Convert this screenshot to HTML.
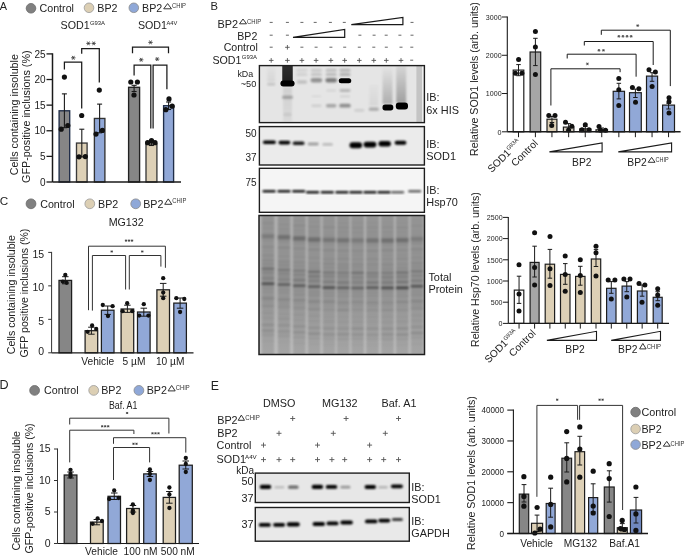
<!DOCTYPE html>
<html><head><meta charset="utf-8"><style>
html,body{margin:0;padding:0;background:#fff;}
body{width:685px;height:555px;overflow:hidden;}
svg{display:block;font-family:"Liberation Sans", sans-serif;will-change:transform;}
</style></head><body>
<svg width="685" height="555" viewBox="0 0 685 555">
<defs>
<filter id="b1" x="-50%" y="-50%" width="200%" height="200%"><feGaussianBlur stdDeviation="0.9"/></filter>
<filter id="b2" x="-50%" y="-50%" width="200%" height="200%"><feGaussianBlur stdDeviation="1.6"/></filter>
<filter id="b05" x="-50%" y="-50%" width="200%" height="200%"><feGaussianBlur stdDeviation="0.5"/></filter>
</defs>
<rect width="685" height="555" fill="#fff"/>
<text x="-0.30" y="9.70" font-size="10.9" text-anchor="start" fill="#222" >A</text>
<circle cx="31.00" cy="8.30" r="4.80" fill="#808080" stroke="#6a6a6a" stroke-width="0.8"/>
<text x="39.50" y="12.00" font-size="10.7" text-anchor="start" fill="#222" >Control</text>
<circle cx="89.00" cy="7.80" r="4.80" fill="#dccfb4" stroke="#9a9a9a" stroke-width="0.8"/>
<text x="97.30" y="11.80" font-size="10.7" text-anchor="start" fill="#222" >BP2</text>
<circle cx="133.80" cy="7.80" r="4.80" fill="#8fa8d8" stroke="#8a8a8a" stroke-width="0.8"/>
<text x="142.00" y="11.80" font-size="10.7" text-anchor="start" fill="#222" >BP2</text>
<polygon points="163.70,8.80 167.60,3.60 171.50,8.80" stroke="#2a2a2a" stroke-width="0.95" fill="none" stroke-linejoin="miter"/>
<text x="172.00" y="7.90" font-size="6.27" text-anchor="start" fill="#333" textLength="14" lengthAdjust="spacingAndGlyphs" >CHIP</text>
<text x="60.60" y="28.80" font-size="10.7" text-anchor="start" fill="#222" >SOD1</text>
<text x="89.90" y="24.60" font-size="5.9" text-anchor="start" fill="#222" >G93A</text>
<text x="137.90" y="28.80" font-size="10.7" text-anchor="start" fill="#222" >SOD1</text>
<text x="166.50" y="24.60" font-size="5.7" text-anchor="start" fill="#222" >A4V</text>
<text transform="translate(18.4,114.7) rotate(-90)" font-size="10.75" text-anchor="middle" fill="#222">Cells containing insoluble</text>
<text transform="translate(29.8,116.7) rotate(-90)" font-size="10.8" text-anchor="middle" fill="#222">GFP-positive inclusions (%)</text>
<line x1="52.50" y1="53.30" x2="52.50" y2="182.00" stroke="#1a1a1a" stroke-width="1.5" />
<line x1="46.50" y1="182.00" x2="52.50" y2="182.00" stroke="#1a1a1a" stroke-width="1.3" />
<text x="45.50" y="185.60" font-size="10" text-anchor="end" fill="#222" >0</text>
<line x1="46.50" y1="156.38" x2="52.50" y2="156.38" stroke="#1a1a1a" stroke-width="1.3" />
<text x="45.50" y="159.98" font-size="10" text-anchor="end" fill="#222" >5</text>
<line x1="46.50" y1="130.76" x2="52.50" y2="130.76" stroke="#1a1a1a" stroke-width="1.3" />
<text x="45.50" y="134.36" font-size="10" text-anchor="end" fill="#222" >10</text>
<line x1="46.50" y1="105.14" x2="52.50" y2="105.14" stroke="#1a1a1a" stroke-width="1.3" />
<text x="45.50" y="108.74" font-size="10" text-anchor="end" fill="#222" >15</text>
<line x1="46.50" y1="79.52" x2="52.50" y2="79.52" stroke="#1a1a1a" stroke-width="1.3" />
<text x="45.50" y="83.12" font-size="10" text-anchor="end" fill="#222" >20</text>
<line x1="46.50" y1="53.90" x2="52.50" y2="53.90" stroke="#1a1a1a" stroke-width="1.3" />
<text x="45.50" y="57.50" font-size="10" text-anchor="end" fill="#222" >25</text>
<rect x="59.10" y="110.78" width="10.60" height="71.22" fill="#868686" stroke="#1f2d48" stroke-width="1.35" />
<line x1="64.40" y1="93.87" x2="64.40" y2="127.69" stroke="#1a1a1a" stroke-width="1.1" />
<line x1="61.90" y1="93.87" x2="66.90" y2="93.87" stroke="#1a1a1a" stroke-width="1.1" />
<line x1="61.90" y1="127.69" x2="66.90" y2="127.69" stroke="#1a1a1a" stroke-width="1.1" />
<circle cx="61.20" cy="129.20" r="2.60" fill="#111" stroke="none" stroke-width="0.8"/>
<circle cx="67.80" cy="125.50" r="2.60" fill="#111" stroke="none" stroke-width="0.8"/>
<circle cx="64.40" cy="77.10" r="2.60" fill="#111" stroke="none" stroke-width="0.8"/>
<rect x="76.50" y="143.06" width="10.60" height="38.94" fill="#ddd0b6" stroke="#3a3a3a" stroke-width="1.35" />
<line x1="81.80" y1="129.22" x2="81.80" y2="156.89" stroke="#1a1a1a" stroke-width="1.1" />
<line x1="79.30" y1="129.22" x2="84.30" y2="129.22" stroke="#1a1a1a" stroke-width="1.1" />
<line x1="79.30" y1="156.89" x2="84.30" y2="156.89" stroke="#1a1a1a" stroke-width="1.1" />
<circle cx="79.00" cy="156.80" r="2.60" fill="#111" stroke="none" stroke-width="0.8"/>
<circle cx="85.30" cy="156.60" r="2.60" fill="#111" stroke="none" stroke-width="0.8"/>
<circle cx="81.70" cy="115.50" r="2.60" fill="#111" stroke="none" stroke-width="0.8"/>
<rect x="94.40" y="118.46" width="10.50" height="63.54" fill="#91a8d7" stroke="#333" stroke-width="1.35" />
<line x1="99.60" y1="104.12" x2="99.60" y2="132.81" stroke="#1a1a1a" stroke-width="1.1" />
<line x1="97.10" y1="104.12" x2="102.10" y2="104.12" stroke="#1a1a1a" stroke-width="1.1" />
<line x1="97.10" y1="132.81" x2="102.10" y2="132.81" stroke="#1a1a1a" stroke-width="1.1" />
<circle cx="96.00" cy="134.10" r="2.60" fill="#111" stroke="none" stroke-width="0.8"/>
<circle cx="102.40" cy="130.40" r="2.60" fill="#111" stroke="none" stroke-width="0.8"/>
<circle cx="99.30" cy="90.10" r="2.60" fill="#111" stroke="none" stroke-width="0.8"/>
<rect x="128.60" y="87.30" width="11.00" height="94.70" fill="#868686" stroke="#222" stroke-width="1.35" />
<line x1="134.10" y1="85.30" x2="134.10" y2="91.50" stroke="#1a1a1a" stroke-width="1.1" />
<line x1="131.60" y1="85.30" x2="136.60" y2="85.30" stroke="#1a1a1a" stroke-width="1.1" />
<line x1="131.60" y1="91.50" x2="136.60" y2="91.50" stroke="#1a1a1a" stroke-width="1.1" />
<circle cx="130.80" cy="82.00" r="2.60" fill="#111" stroke="none" stroke-width="0.8"/>
<circle cx="137.40" cy="82.00" r="2.60" fill="#111" stroke="none" stroke-width="0.8"/>
<circle cx="134.00" cy="95.00" r="2.60" fill="#111" stroke="none" stroke-width="0.8"/>
<rect x="146.00" y="144.00" width="10.90" height="38.00" fill="#ddd0b6" stroke="#3a3a3a" stroke-width="1.35" />
<line x1="151.40" y1="142.50" x2="151.40" y2="145.50" stroke="#1a1a1a" stroke-width="1.1" />
<line x1="148.90" y1="142.50" x2="153.90" y2="142.50" stroke="#1a1a1a" stroke-width="1.1" />
<line x1="148.90" y1="145.50" x2="153.90" y2="145.50" stroke="#1a1a1a" stroke-width="1.1" />
<circle cx="147.60" cy="142.70" r="2.60" fill="#111" stroke="none" stroke-width="0.8"/>
<circle cx="151.50" cy="140.60" r="2.60" fill="#111" stroke="none" stroke-width="0.8"/>
<circle cx="155.00" cy="142.70" r="2.60" fill="#111" stroke="none" stroke-width="0.8"/>
<rect x="163.60" y="105.70" width="10.00" height="76.30" fill="#91a8d7" stroke="#1f2d48" stroke-width="1.35" />
<line x1="168.60" y1="102.00" x2="168.60" y2="109.50" stroke="#1a1a1a" stroke-width="1.1" />
<line x1="166.10" y1="102.00" x2="171.10" y2="102.00" stroke="#1a1a1a" stroke-width="1.1" />
<line x1="166.10" y1="109.50" x2="171.10" y2="109.50" stroke="#1a1a1a" stroke-width="1.1" />
<circle cx="169.00" cy="98.90" r="2.60" fill="#111" stroke="none" stroke-width="0.8"/>
<circle cx="165.80" cy="109.70" r="2.60" fill="#111" stroke="none" stroke-width="0.8"/>
<circle cx="172.20" cy="106.20" r="2.60" fill="#111" stroke="none" stroke-width="0.8"/>
<line x1="52.50" y1="182.00" x2="181.00" y2="182.00" stroke="#1a1a1a" stroke-width="1.6" />
<polyline points="64.40,69.60 64.40,62.00 81.70,62.00 81.70,108.60" stroke="#1a1a1a" stroke-width="1.25" fill="none" stroke-linejoin="miter" />
<line x1="71.10" y1="57.80" x2="75.50" y2="57.80" stroke="#3a3a3a" stroke-width="0.85" />
<line x1="72.20" y1="55.89" x2="74.40" y2="59.71" stroke="#3a3a3a" stroke-width="0.85" />
<line x1="74.40" y1="55.89" x2="72.20" y2="59.71" stroke="#3a3a3a" stroke-width="0.85" />
<polyline points="81.70,53.80 81.70,48.70 99.30,48.70 99.30,82.60" stroke="#1a1a1a" stroke-width="1.25" fill="none" stroke-linejoin="miter" />
<line x1="86.30" y1="43.40" x2="90.50" y2="43.40" stroke="#3a3a3a" stroke-width="0.85" />
<line x1="87.35" y1="41.58" x2="89.45" y2="45.22" stroke="#3a3a3a" stroke-width="0.85" />
<line x1="89.45" y1="41.58" x2="87.35" y2="45.22" stroke="#3a3a3a" stroke-width="0.85" />
<line x1="91.60" y1="43.40" x2="95.80" y2="43.40" stroke="#3a3a3a" stroke-width="0.85" />
<line x1="92.65" y1="41.58" x2="94.75" y2="45.22" stroke="#3a3a3a" stroke-width="0.85" />
<line x1="94.75" y1="41.58" x2="92.65" y2="45.22" stroke="#3a3a3a" stroke-width="0.85" />
<polyline points="132.50,53.30 132.50,47.20 168.50,47.20 168.50,53.30" stroke="#1a1a1a" stroke-width="1.25" fill="none" stroke-linejoin="miter" />
<line x1="148.30" y1="42.40" x2="152.70" y2="42.40" stroke="#3a3a3a" stroke-width="0.85" />
<line x1="149.40" y1="40.49" x2="151.60" y2="44.31" stroke="#3a3a3a" stroke-width="0.85" />
<line x1="151.60" y1="40.49" x2="149.40" y2="44.31" stroke="#3a3a3a" stroke-width="0.85" />
<polyline points="134.10,75.40 134.10,65.20 150.80,65.20 150.80,128.50" stroke="#1a1a1a" stroke-width="1.25" fill="none" stroke-linejoin="miter" />
<line x1="139.00" y1="59.80" x2="143.40" y2="59.80" stroke="#3a3a3a" stroke-width="0.85" />
<line x1="140.10" y1="57.89" x2="142.30" y2="61.71" stroke="#3a3a3a" stroke-width="0.85" />
<line x1="142.30" y1="57.89" x2="140.10" y2="61.71" stroke="#3a3a3a" stroke-width="0.85" />
<polyline points="153.10,128.50 153.10,65.20 166.90,65.20 166.90,89.20" stroke="#1a1a1a" stroke-width="1.25" fill="none" stroke-linejoin="miter" />
<line x1="155.00" y1="59.10" x2="159.40" y2="59.10" stroke="#3a3a3a" stroke-width="0.85" />
<line x1="156.10" y1="57.19" x2="158.30" y2="61.01" stroke="#3a3a3a" stroke-width="0.85" />
<line x1="158.30" y1="57.19" x2="156.10" y2="61.01" stroke="#3a3a3a" stroke-width="0.85" />
<text x="210.60" y="9.60" font-size="11.2" text-anchor="start" fill="#222" >B</text>
<text x="217.60" y="27.50" font-size="10.9" text-anchor="start" fill="#222" >BP2</text>
<polygon points="239.50,23.80 243.00,19.00 246.50,23.80" stroke="#2a2a2a" stroke-width="0.95" fill="none" stroke-linejoin="miter"/>
<text x="247.00" y="23.70" font-size="6.5" text-anchor="start" fill="#333" textLength="14.1" lengthAdjust="spacingAndGlyphs" >CHIP</text>
<text x="257.30" y="39.80" font-size="10.6" text-anchor="end" fill="#222" >BP2</text>
<text x="257.80" y="51.10" font-size="10.6" text-anchor="end" fill="#222" >Control</text>
<text x="212.40" y="63.60" font-size="10.7" text-anchor="start" fill="#222" >SOD1</text>
<text x="241.80" y="59.40" font-size="5.9" text-anchor="start" fill="#222" >G93A</text>
<line x1="268.90" y1="60.40" x2="273.50" y2="60.40" stroke="#555" stroke-width="0.9" />
<line x1="271.20" y1="58.10" x2="271.20" y2="62.70" stroke="#555" stroke-width="0.9" />
<line x1="285.10" y1="60.40" x2="289.70" y2="60.40" stroke="#555" stroke-width="0.9" />
<line x1="287.40" y1="58.10" x2="287.40" y2="62.70" stroke="#555" stroke-width="0.9" />
<line x1="299.60" y1="60.40" x2="304.20" y2="60.40" stroke="#555" stroke-width="0.9" />
<line x1="301.90" y1="58.10" x2="301.90" y2="62.70" stroke="#555" stroke-width="0.9" />
<line x1="313.80" y1="60.40" x2="318.40" y2="60.40" stroke="#555" stroke-width="0.9" />
<line x1="316.10" y1="58.10" x2="316.10" y2="62.70" stroke="#555" stroke-width="0.9" />
<line x1="328.60" y1="60.40" x2="333.20" y2="60.40" stroke="#555" stroke-width="0.9" />
<line x1="330.90" y1="58.10" x2="330.90" y2="62.70" stroke="#555" stroke-width="0.9" />
<line x1="342.40" y1="60.40" x2="347.00" y2="60.40" stroke="#555" stroke-width="0.9" />
<line x1="344.70" y1="58.10" x2="344.70" y2="62.70" stroke="#555" stroke-width="0.9" />
<line x1="357.00" y1="60.40" x2="361.60" y2="60.40" stroke="#555" stroke-width="0.9" />
<line x1="359.30" y1="58.10" x2="359.30" y2="62.70" stroke="#555" stroke-width="0.9" />
<line x1="371.50" y1="60.40" x2="376.10" y2="60.40" stroke="#555" stroke-width="0.9" />
<line x1="373.80" y1="58.10" x2="373.80" y2="62.70" stroke="#555" stroke-width="0.9" />
<line x1="384.00" y1="60.40" x2="388.60" y2="60.40" stroke="#555" stroke-width="0.9" />
<line x1="386.30" y1="58.10" x2="386.30" y2="62.70" stroke="#555" stroke-width="0.9" />
<line x1="398.70" y1="60.40" x2="403.30" y2="60.40" stroke="#555" stroke-width="0.9" />
<line x1="401.00" y1="58.10" x2="401.00" y2="62.70" stroke="#555" stroke-width="0.9" />
<line x1="410.20" y1="60.20" x2="413.20" y2="60.20" stroke="#555" stroke-width="0.9" />
<line x1="269.70" y1="47.20" x2="272.70" y2="47.20" stroke="#555" stroke-width="0.9" />
<line x1="285.10" y1="47.30" x2="289.70" y2="47.30" stroke="#555" stroke-width="0.9" />
<line x1="287.40" y1="45.00" x2="287.40" y2="49.60" stroke="#555" stroke-width="0.9" />
<line x1="300.40" y1="47.20" x2="303.40" y2="47.20" stroke="#555" stroke-width="0.9" />
<line x1="314.60" y1="47.20" x2="317.60" y2="47.20" stroke="#555" stroke-width="0.9" />
<line x1="329.40" y1="47.20" x2="332.40" y2="47.20" stroke="#555" stroke-width="0.9" />
<line x1="343.20" y1="47.20" x2="346.20" y2="47.20" stroke="#555" stroke-width="0.9" />
<line x1="357.80" y1="47.20" x2="360.80" y2="47.20" stroke="#555" stroke-width="0.9" />
<line x1="372.30" y1="47.20" x2="375.30" y2="47.20" stroke="#555" stroke-width="0.9" />
<line x1="384.80" y1="47.20" x2="387.80" y2="47.20" stroke="#555" stroke-width="0.9" />
<line x1="399.50" y1="47.20" x2="402.50" y2="47.20" stroke="#555" stroke-width="0.9" />
<line x1="410.30" y1="47.20" x2="413.30" y2="47.20" stroke="#555" stroke-width="0.9" />
<line x1="269.70" y1="35.20" x2="272.70" y2="35.20" stroke="#555" stroke-width="0.9" />
<line x1="285.90" y1="35.20" x2="288.90" y2="35.20" stroke="#555" stroke-width="0.9" />
<polygon points="293.00,37.40 344.70,29.40 344.70,37.40" stroke="#1a1a1a" stroke-width="1.2" fill="#fff" />
<line x1="358.40" y1="35.20" x2="361.40" y2="35.20" stroke="#555" stroke-width="0.9" />
<line x1="372.60" y1="35.20" x2="375.60" y2="35.20" stroke="#555" stroke-width="0.9" />
<line x1="384.70" y1="35.20" x2="387.70" y2="35.20" stroke="#555" stroke-width="0.9" />
<line x1="398.40" y1="35.20" x2="401.40" y2="35.20" stroke="#555" stroke-width="0.9" />
<line x1="410.50" y1="35.20" x2="413.50" y2="35.20" stroke="#555" stroke-width="0.9" />
<line x1="269.70" y1="22.40" x2="272.70" y2="22.40" stroke="#555" stroke-width="0.9" />
<line x1="285.90" y1="22.40" x2="288.90" y2="22.40" stroke="#555" stroke-width="0.9" />
<line x1="300.40" y1="22.40" x2="303.40" y2="22.40" stroke="#555" stroke-width="0.9" />
<line x1="313.70" y1="22.40" x2="316.70" y2="22.40" stroke="#555" stroke-width="0.9" />
<line x1="328.90" y1="22.40" x2="331.90" y2="22.40" stroke="#555" stroke-width="0.9" />
<line x1="342.80" y1="22.40" x2="345.80" y2="22.40" stroke="#555" stroke-width="0.9" />
<polygon points="351.30,24.70 402.90,17.50 402.90,24.70" stroke="#1a1a1a" stroke-width="1.2" fill="#fff" />
<line x1="410.50" y1="22.40" x2="413.50" y2="22.40" stroke="#555" stroke-width="0.9" />
<clipPath id="cb1"><rect x="259.4" y="65.6" width="165" height="57"/></clipPath>
<rect x="259.40" y="65.60" width="165.00" height="57.00" fill="#e5e5e5" stroke="none" stroke-width="1.2" />
<g clip-path="url(#cb1)">
<linearGradient id="gs1" x1="0" y1="0" x2="0" y2="1"><stop offset="0" stop-color="#000" stop-opacity="0.02"/><stop offset="1" stop-color="#000" stop-opacity="0.06"/></linearGradient>
<rect x="267.20" y="67.00" width="8.00" height="15.00" fill="url(#gs1)" filter="url(#b1)"/>
<rect x="267.20" y="82.90" width="8.00" height="2.60" rx="1.30" fill="#000" opacity="0.15" filter="url(#b1)"/>
<linearGradient id="gs2" x1="0" y1="0" x2="0" y2="1"><stop offset="0" stop-color="#000" stop-opacity="0.8"/><stop offset="1" stop-color="#000" stop-opacity="0.86"/></linearGradient>
<rect x="282.25" y="66.00" width="10.50" height="16.00" fill="url(#gs2)" filter="url(#b05)"/>
<rect x="280.40" y="80.40" width="14.20" height="6.00" rx="3.00" fill="#000" opacity="1.0" filter="url(#b05)"/>
<linearGradient id="gs3" x1="0" y1="0" x2="0" y2="1"><stop offset="0" stop-color="#000" stop-opacity="0.09"/><stop offset="1" stop-color="#000" stop-opacity="0.05"/></linearGradient>
<rect x="283.00" y="87.00" width="9.00" height="35.00" fill="url(#gs3)" filter="url(#b1)"/>
<rect x="282.00" y="95.70" width="11.00" height="3.00" rx="1.50" fill="#000" opacity="0.26" filter="url(#b1)"/>
<rect x="283.50" y="113.00" width="8.00" height="3.00" rx="1.50" fill="#000" opacity="0.07" filter="url(#b1)"/>
<rect x="296.40" y="68.80" width="11.00" height="3.00" rx="1.50" fill="#000" opacity="0.07" filter="url(#b1)"/>
<rect x="296.40" y="73.10" width="11.00" height="3.00" rx="1.50" fill="#000" opacity="0.08" filter="url(#b1)"/>
<rect x="310.90" y="68.80" width="11.00" height="3.00" rx="1.50" fill="#000" opacity="0.12" filter="url(#b1)"/>
<rect x="310.90" y="73.10" width="11.00" height="3.00" rx="1.50" fill="#000" opacity="0.14" filter="url(#b1)"/>
<rect x="325.70" y="68.80" width="11.00" height="3.00" rx="1.50" fill="#000" opacity="0.16" filter="url(#b1)"/>
<rect x="325.70" y="73.10" width="11.00" height="3.00" rx="1.50" fill="#000" opacity="0.18" filter="url(#b1)"/>
<rect x="339.50" y="68.80" width="11.00" height="3.00" rx="1.50" fill="#000" opacity="0.2" filter="url(#b1)"/>
<rect x="339.50" y="73.10" width="11.00" height="3.00" rx="1.50" fill="#000" opacity="0.22" filter="url(#b1)"/>
<rect x="296.65" y="80.20" width="10.50" height="3.60" rx="1.80" fill="#000" opacity="0.16" filter="url(#b1)"/>
<rect x="310.65" y="78.00" width="11.50" height="4.40" rx="2.20" fill="#000" opacity="0.36" filter="url(#b1)"/>
<rect x="311.40" y="104.50" width="10.00" height="2.60" rx="1.30" fill="#000" opacity="0.1" filter="url(#b1)"/>
<rect x="325.45" y="78.00" width="11.50" height="4.40" rx="2.20" fill="#000" opacity="0.46" filter="url(#b1)"/>
<rect x="326.20" y="89.40" width="10.00" height="2.20" rx="1.10" fill="#000" opacity="0.08" filter="url(#b1)"/>
<rect x="325.95" y="104.00" width="10.50" height="3.40" rx="1.70" fill="#000" opacity="0.28" filter="url(#b1)"/>
<rect x="338.75" y="78.30" width="12.50" height="5.00" rx="2.50" fill="#000" opacity="1.0" filter="url(#b05)"/>
<rect x="339.50" y="89.10" width="11.00" height="2.80" rx="1.40" fill="#000" opacity="0.2" filter="url(#b1)"/>
<rect x="340.00" y="95.50" width="10.00" height="1.80" rx="0.90" fill="#000" opacity="0.1" filter="url(#b1)"/>
<rect x="339.25" y="103.80" width="11.50" height="3.80" rx="1.90" fill="#000" opacity="0.38" filter="url(#b1)"/>
<rect x="311.40" y="95.60" width="10.00" height="1.60" rx="0.80" fill="#000" opacity="0.06" filter="url(#b1)"/>
<rect x="354.30" y="108.90" width="10.00" height="2.80" rx="1.40" fill="#000" opacity="0.1" filter="url(#b1)"/>
<linearGradient id="gs4" x1="0" y1="0" x2="0" y2="1"><stop offset="0" stop-color="#000" stop-opacity="0.02"/><stop offset="1" stop-color="#000" stop-opacity="0.06"/></linearGradient>
<rect x="369.30" y="85.00" width="9.00" height="21.00" fill="url(#gs4)" filter="url(#b1)"/>
<rect x="368.80" y="107.60" width="10.00" height="3.20" rx="1.60" fill="#000" opacity="0.26" filter="url(#b1)"/>
<linearGradient id="gs5" x1="0" y1="0" x2="0" y2="1"><stop offset="0" stop-color="#000" stop-opacity="0.01"/><stop offset="1" stop-color="#000" stop-opacity="0.24"/></linearGradient>
<rect x="382.50" y="67.00" width="10.00" height="37.00" fill="url(#gs5)" filter="url(#b1)"/>
<rect x="382.5" y="104.6" width="10.8" height="5.8" rx="2.6" fill="#000" filter="url(#b05)"/>
<linearGradient id="gs6" x1="0" y1="0" x2="0" y2="1"><stop offset="0" stop-color="#000" stop-opacity="0.07"/><stop offset="1" stop-color="#000" stop-opacity="0.3"/></linearGradient>
<rect x="396.20" y="66.00" width="10.00" height="37.00" fill="url(#gs6)" filter="url(#b1)"/>
<rect x="395.8" y="102.6" width="12.2" height="6.8" rx="3.0" fill="#000" filter="url(#b05)"/>
<rect x="416.40" y="65.60" width="5.70" height="57.00" fill="#c4c4c4" stroke="none" stroke-width="1.2" />
<rect x="422.10" y="65.60" width="2.30" height="57.00" fill="#f0f0f0" stroke="none" stroke-width="1.2" />
</g>
<rect x="259.40" y="65.60" width="165.00" height="57.00" fill="none" stroke="#1e1e1e" stroke-width="1.4" />
<text x="253.20" y="77.00" font-size="9.2" text-anchor="end" fill="#222" textLength="15.8" lengthAdjust="spacingAndGlyphs" >kDa</text>
<text x="256.30" y="86.90" font-size="9.2" text-anchor="end" fill="#222" >~50</text>
<text x="426.30" y="101.40" font-size="10.9" text-anchor="start" fill="#222" >IB:</text>
<text x="426.30" y="113.90" font-size="10.9" text-anchor="start" fill="#222" >6x HIS</text>
<rect x="259.40" y="126.60" width="165.00" height="38.40" fill="#ebebeb" stroke="none" stroke-width="1.2" />
<rect x="262.90" y="140.50" width="13.00" height="3.60" rx="1.80" fill="#000" opacity="1" filter="url(#b1)"/>
<rect x="278.50" y="140.80" width="11.80" height="3.60" rx="1.80" fill="#000" opacity="1" filter="url(#b1)"/>
<rect x="292.70" y="141.50" width="11.80" height="3.40" rx="1.70" fill="#000" opacity="0.9" filter="url(#b1)"/>
<rect x="307.70" y="142.60" width="11.00" height="2.80" rx="1.40" fill="#000" opacity="0.32" filter="url(#b1)"/>
<rect x="322.35" y="143.10" width="10.50" height="2.60" rx="1.30" fill="#000" opacity="0.2" filter="url(#b1)"/>
<rect x="349.50" y="142.30" width="12.60" height="6.00" rx="3.00" fill="#000" opacity="1" filter="url(#b1)"/>
<rect x="363.60" y="141.80" width="12.80" height="5.60" rx="2.80" fill="#000" opacity="1" filter="url(#b1)"/>
<rect x="378.50" y="141.10" width="12.40" height="5.40" rx="2.70" fill="#000" opacity="1" filter="url(#b1)"/>
<rect x="394.60" y="140.70" width="11.80" height="4.00" rx="2.00" fill="#000" opacity="1" filter="url(#b1)"/>
<rect x="259.40" y="126.60" width="165.00" height="38.40" fill="none" stroke="#1e1e1e" stroke-width="1.4" />
<text x="256.50" y="137.00" font-size="10" text-anchor="end" fill="#222" >50</text>
<text x="256.50" y="160.80" font-size="10" text-anchor="end" fill="#222" >37</text>
<text x="426.30" y="147.80" font-size="10.9" text-anchor="start" fill="#222" >IB:</text>
<text x="426.30" y="160.00" font-size="10.9" text-anchor="start" fill="#222" >SOD1</text>
<rect x="259.40" y="168.30" width="165.00" height="44.00" fill="#f5f5f5" stroke="none" stroke-width="1.2" />
<rect x="262.50" y="190.00" width="13.20" height="2.60" rx="1.30" fill="#000" opacity="0.92" filter="url(#b1)"/>
<rect x="277.40" y="190.00" width="13.20" height="2.60" rx="1.30" fill="#000" opacity="0.92" filter="url(#b1)"/>
<rect x="292.10" y="190.00" width="13.20" height="2.60" rx="1.30" fill="#000" opacity="0.92" filter="url(#b1)"/>
<rect x="306.00" y="190.90" width="13.20" height="2.60" rx="1.30" fill="#000" opacity="0.92" filter="url(#b1)"/>
<rect x="320.70" y="190.90" width="13.20" height="2.60" rx="1.30" fill="#000" opacity="0.92" filter="url(#b1)"/>
<rect x="335.30" y="190.90" width="13.20" height="2.60" rx="1.30" fill="#000" opacity="0.92" filter="url(#b1)"/>
<rect x="349.30" y="190.90" width="13.20" height="2.60" rx="1.30" fill="#000" opacity="0.92" filter="url(#b1)"/>
<rect x="363.40" y="190.90" width="13.20" height="2.60" rx="1.30" fill="#000" opacity="0.92" filter="url(#b1)"/>
<rect x="377.40" y="190.90" width="13.20" height="2.60" rx="1.30" fill="#000" opacity="0.92" filter="url(#b1)"/>
<rect x="391.00" y="190.90" width="13.20" height="2.60" rx="1.30" fill="#000" opacity="0.6" filter="url(#b1)"/>
<rect x="408.10" y="190.00" width="13.20" height="2.60" rx="1.30" fill="#000" opacity="0.6" filter="url(#b1)"/>
<rect x="259.40" y="168.30" width="165.00" height="44.00" fill="none" stroke="#1e1e1e" stroke-width="1.4" />
<text x="256.50" y="186.30" font-size="10" text-anchor="end" fill="#222" >75</text>
<text x="426.30" y="194.20" font-size="10.9" text-anchor="start" fill="#222" >IB:</text>
<text x="426.30" y="206.40" font-size="10.9" text-anchor="start" fill="#222" >Hsp70</text>
<clipPath id="ctp"><rect x="259" y="215.5" width="165.5" height="139"/></clipPath>
<rect x="259.00" y="215.50" width="165.50" height="139.00" fill="#b2b2b2" stroke="none" stroke-width="1.2" />
<g clip-path="url(#ctp)">
<g filter="url(#b1)">
<rect x="261.70" y="215.00" width="12.60" height="140.00" fill="#000" stroke="none" stroke-width="1.2" opacity="0.17"/>
<rect x="277.70" y="215.00" width="12.60" height="140.00" fill="#000" stroke="none" stroke-width="1.2" opacity="0.17"/>
<rect x="293.00" y="215.00" width="12.60" height="140.00" fill="#000" stroke="none" stroke-width="1.2" opacity="0.17"/>
<rect x="307.90" y="215.00" width="12.60" height="140.00" fill="#000" stroke="none" stroke-width="1.2" opacity="0.17"/>
<rect x="322.70" y="215.00" width="12.60" height="140.00" fill="#000" stroke="none" stroke-width="1.2" opacity="0.17"/>
<rect x="336.90" y="215.00" width="12.60" height="140.00" fill="#000" stroke="none" stroke-width="1.2" opacity="0.17"/>
<rect x="351.30" y="215.00" width="12.60" height="140.00" fill="#000" stroke="none" stroke-width="1.2" opacity="0.17"/>
<rect x="366.20" y="215.00" width="12.60" height="140.00" fill="#000" stroke="none" stroke-width="1.2" opacity="0.17"/>
<rect x="381.20" y="215.00" width="12.60" height="140.00" fill="#000" stroke="none" stroke-width="1.2" opacity="0.17"/>
<rect x="396.00" y="215.00" width="12.60" height="140.00" fill="#000" stroke="none" stroke-width="1.2" opacity="0.17"/>
<rect x="410.70" y="215.00" width="12.60" height="140.00" fill="#000" stroke="none" stroke-width="1.2" opacity="0.17"/>
<rect x="261.60" y="217.79" width="12.80" height="2.00" fill="#000" stroke="none" stroke-width="1.2" opacity="0.027"/>
<rect x="261.60" y="221.99" width="12.80" height="2.50" fill="#000" stroke="none" stroke-width="1.2" opacity="0.054"/>
<rect x="261.60" y="226.92" width="12.80" height="2.00" fill="#000" stroke="none" stroke-width="1.2" opacity="0.041"/>
<rect x="261.60" y="230.70" width="12.80" height="1.60" fill="#000" stroke="none" stroke-width="1.2" opacity="0.031"/>
<rect x="261.60" y="233.96" width="12.80" height="4.60" fill="#000" stroke="none" stroke-width="1.2" opacity="0.169"/>
<rect x="261.60" y="239.75" width="12.80" height="2.00" fill="#000" stroke="none" stroke-width="1.2" opacity="0.039"/>
<rect x="261.60" y="245.60" width="12.80" height="2.40" fill="#000" stroke="none" stroke-width="1.2" opacity="0.067"/>
<rect x="261.60" y="250.03" width="12.80" height="1.60" fill="#000" stroke="none" stroke-width="1.2" opacity="0.032"/>
<rect x="261.60" y="254.27" width="12.80" height="2.40" fill="#000" stroke="none" stroke-width="1.2" opacity="0.064"/>
<rect x="261.60" y="258.94" width="12.80" height="3.00" fill="#000" stroke="none" stroke-width="1.2" opacity="0.062"/>
<rect x="261.60" y="263.23" width="12.80" height="2.00" fill="#000" stroke="none" stroke-width="1.2" opacity="0.087"/>
<rect x="261.60" y="267.47" width="12.80" height="2.60" fill="#000" stroke="none" stroke-width="1.2" opacity="0.248"/>
<rect x="261.60" y="271.47" width="12.80" height="2.20" fill="#000" stroke="none" stroke-width="1.2" opacity="0.140"/>
<rect x="261.60" y="275.19" width="12.80" height="2.00" fill="#000" stroke="none" stroke-width="1.2" opacity="0.072"/>
<rect x="261.60" y="277.55" width="12.80" height="2.20" fill="#000" stroke="none" stroke-width="1.2" opacity="0.160"/>
<rect x="261.60" y="282.32" width="12.80" height="2.80" fill="#000" stroke="none" stroke-width="1.2" opacity="0.449"/>
<rect x="261.60" y="287.24" width="12.80" height="2.00" fill="#000" stroke="none" stroke-width="1.2" opacity="0.061"/>
<rect x="261.60" y="290.82" width="12.80" height="2.00" fill="#000" stroke="none" stroke-width="1.2" opacity="0.039"/>
<rect x="261.60" y="297.26" width="12.80" height="2.20" fill="#000" stroke="none" stroke-width="1.2" opacity="0.131"/>
<rect x="261.60" y="301.25" width="12.80" height="1.60" fill="#000" stroke="none" stroke-width="1.2" opacity="0.036"/>
<rect x="261.60" y="304.88" width="12.80" height="2.00" fill="#000" stroke="none" stroke-width="1.2" opacity="0.088"/>
<rect x="261.60" y="312.12" width="12.80" height="2.00" fill="#000" stroke="none" stroke-width="1.2" opacity="0.046"/>
<rect x="261.60" y="317.04" width="12.80" height="2.00" fill="#000" stroke="none" stroke-width="1.2" opacity="0.044"/>
<rect x="261.60" y="323.83" width="12.80" height="2.20" fill="#000" stroke="none" stroke-width="1.2" opacity="0.122"/>
<rect x="261.60" y="329.47" width="12.80" height="2.20" fill="#000" stroke="none" stroke-width="1.2" opacity="0.145"/>
<rect x="261.60" y="333.77" width="12.80" height="2.00" fill="#000" stroke="none" stroke-width="1.2" opacity="0.087"/>
<rect x="261.60" y="340.15" width="12.80" height="2.00" fill="#000" stroke="none" stroke-width="1.2" opacity="0.029"/>
<rect x="277.60" y="218.89" width="12.80" height="2.00" fill="#000" stroke="none" stroke-width="1.2" opacity="0.025"/>
<rect x="277.60" y="223.25" width="12.80" height="2.50" fill="#000" stroke="none" stroke-width="1.2" opacity="0.038"/>
<rect x="277.60" y="227.94" width="12.80" height="2.00" fill="#000" stroke="none" stroke-width="1.2" opacity="0.045"/>
<rect x="277.60" y="231.49" width="12.80" height="1.60" fill="#000" stroke="none" stroke-width="1.2" opacity="0.048"/>
<rect x="277.60" y="234.96" width="12.80" height="4.60" fill="#000" stroke="none" stroke-width="1.2" opacity="0.241"/>
<rect x="277.60" y="240.87" width="12.80" height="2.00" fill="#000" stroke="none" stroke-width="1.2" opacity="0.052"/>
<rect x="277.60" y="246.57" width="12.80" height="2.40" fill="#000" stroke="none" stroke-width="1.2" opacity="0.082"/>
<rect x="277.60" y="251.20" width="12.80" height="1.60" fill="#000" stroke="none" stroke-width="1.2" opacity="0.039"/>
<rect x="277.60" y="255.02" width="12.80" height="2.40" fill="#000" stroke="none" stroke-width="1.2" opacity="0.047"/>
<rect x="277.60" y="260.20" width="12.80" height="3.00" fill="#000" stroke="none" stroke-width="1.2" opacity="0.064"/>
<rect x="277.60" y="264.27" width="12.80" height="2.00" fill="#000" stroke="none" stroke-width="1.2" opacity="0.081"/>
<rect x="277.60" y="268.60" width="12.80" height="2.60" fill="#000" stroke="none" stroke-width="1.2" opacity="0.198"/>
<rect x="277.60" y="272.58" width="12.80" height="2.20" fill="#000" stroke="none" stroke-width="1.2" opacity="0.129"/>
<rect x="277.60" y="275.67" width="12.80" height="2.00" fill="#000" stroke="none" stroke-width="1.2" opacity="0.067"/>
<rect x="277.60" y="278.56" width="12.80" height="2.20" fill="#000" stroke="none" stroke-width="1.2" opacity="0.148"/>
<rect x="277.60" y="283.15" width="12.80" height="2.80" fill="#000" stroke="none" stroke-width="1.2" opacity="0.342"/>
<rect x="277.60" y="288.62" width="12.80" height="2.00" fill="#000" stroke="none" stroke-width="1.2" opacity="0.057"/>
<rect x="277.60" y="291.87" width="12.80" height="2.00" fill="#000" stroke="none" stroke-width="1.2" opacity="0.040"/>
<rect x="277.60" y="298.43" width="12.80" height="2.20" fill="#000" stroke="none" stroke-width="1.2" opacity="0.123"/>
<rect x="277.60" y="302.32" width="12.80" height="1.60" fill="#000" stroke="none" stroke-width="1.2" opacity="0.046"/>
<rect x="277.60" y="305.85" width="12.80" height="2.00" fill="#000" stroke="none" stroke-width="1.2" opacity="0.080"/>
<rect x="277.60" y="313.13" width="12.80" height="2.00" fill="#000" stroke="none" stroke-width="1.2" opacity="0.037"/>
<rect x="277.60" y="317.69" width="12.80" height="2.00" fill="#000" stroke="none" stroke-width="1.2" opacity="0.061"/>
<rect x="277.60" y="324.34" width="12.80" height="2.20" fill="#000" stroke="none" stroke-width="1.2" opacity="0.101"/>
<rect x="277.60" y="330.49" width="12.80" height="2.20" fill="#000" stroke="none" stroke-width="1.2" opacity="0.113"/>
<rect x="277.60" y="334.76" width="12.80" height="2.00" fill="#000" stroke="none" stroke-width="1.2" opacity="0.073"/>
<rect x="277.60" y="340.85" width="12.80" height="2.00" fill="#000" stroke="none" stroke-width="1.2" opacity="0.023"/>
<rect x="292.90" y="220.04" width="12.80" height="2.00" fill="#000" stroke="none" stroke-width="1.2" opacity="0.028"/>
<rect x="292.90" y="224.36" width="12.80" height="2.50" fill="#000" stroke="none" stroke-width="1.2" opacity="0.061"/>
<rect x="292.90" y="229.07" width="12.80" height="2.00" fill="#000" stroke="none" stroke-width="1.2" opacity="0.040"/>
<rect x="292.90" y="232.43" width="12.80" height="1.60" fill="#000" stroke="none" stroke-width="1.2" opacity="0.044"/>
<rect x="292.90" y="236.17" width="12.80" height="4.60" fill="#000" stroke="none" stroke-width="1.2" opacity="0.264"/>
<rect x="292.90" y="242.18" width="12.80" height="2.00" fill="#000" stroke="none" stroke-width="1.2" opacity="0.059"/>
<rect x="292.90" y="247.34" width="12.80" height="2.40" fill="#000" stroke="none" stroke-width="1.2" opacity="0.066"/>
<rect x="292.90" y="252.28" width="12.80" height="1.60" fill="#000" stroke="none" stroke-width="1.2" opacity="0.032"/>
<rect x="292.90" y="255.74" width="12.80" height="2.40" fill="#000" stroke="none" stroke-width="1.2" opacity="0.047"/>
<rect x="292.90" y="260.80" width="12.80" height="3.00" fill="#000" stroke="none" stroke-width="1.2" opacity="0.051"/>
<rect x="292.90" y="265.23" width="12.80" height="2.00" fill="#000" stroke="none" stroke-width="1.2" opacity="0.064"/>
<rect x="292.90" y="269.39" width="12.80" height="2.60" fill="#000" stroke="none" stroke-width="1.2" opacity="0.158"/>
<rect x="292.90" y="273.62" width="12.80" height="2.20" fill="#000" stroke="none" stroke-width="1.2" opacity="0.136"/>
<rect x="292.90" y="277.22" width="12.80" height="2.00" fill="#000" stroke="none" stroke-width="1.2" opacity="0.061"/>
<rect x="292.90" y="279.29" width="12.80" height="2.20" fill="#000" stroke="none" stroke-width="1.2" opacity="0.201"/>
<rect x="292.90" y="284.31" width="12.80" height="2.80" fill="#000" stroke="none" stroke-width="1.2" opacity="0.368"/>
<rect x="292.90" y="289.27" width="12.80" height="2.00" fill="#000" stroke="none" stroke-width="1.2" opacity="0.056"/>
<rect x="292.90" y="293.30" width="12.80" height="2.00" fill="#000" stroke="none" stroke-width="1.2" opacity="0.059"/>
<rect x="292.90" y="299.29" width="12.80" height="2.20" fill="#000" stroke="none" stroke-width="1.2" opacity="0.118"/>
<rect x="292.90" y="302.96" width="12.80" height="1.60" fill="#000" stroke="none" stroke-width="1.2" opacity="0.032"/>
<rect x="292.90" y="306.86" width="12.80" height="2.00" fill="#000" stroke="none" stroke-width="1.2" opacity="0.083"/>
<rect x="292.90" y="313.80" width="12.80" height="2.00" fill="#000" stroke="none" stroke-width="1.2" opacity="0.047"/>
<rect x="292.90" y="319.27" width="12.80" height="2.00" fill="#000" stroke="none" stroke-width="1.2" opacity="0.038"/>
<rect x="292.90" y="325.39" width="12.80" height="2.20" fill="#000" stroke="none" stroke-width="1.2" opacity="0.122"/>
<rect x="292.90" y="331.32" width="12.80" height="2.20" fill="#000" stroke="none" stroke-width="1.2" opacity="0.133"/>
<rect x="292.90" y="336.29" width="12.80" height="2.00" fill="#000" stroke="none" stroke-width="1.2" opacity="0.071"/>
<rect x="292.90" y="342.12" width="12.80" height="2.00" fill="#000" stroke="none" stroke-width="1.2" opacity="0.035"/>
<rect x="307.80" y="220.92" width="12.80" height="2.00" fill="#000" stroke="none" stroke-width="1.2" opacity="0.026"/>
<rect x="307.80" y="225.41" width="12.80" height="2.50" fill="#000" stroke="none" stroke-width="1.2" opacity="0.042"/>
<rect x="307.80" y="230.17" width="12.80" height="2.00" fill="#000" stroke="none" stroke-width="1.2" opacity="0.041"/>
<rect x="307.80" y="233.53" width="12.80" height="1.60" fill="#000" stroke="none" stroke-width="1.2" opacity="0.037"/>
<rect x="307.80" y="237.29" width="12.80" height="4.60" fill="#000" stroke="none" stroke-width="1.2" opacity="0.254"/>
<rect x="307.80" y="243.18" width="12.80" height="2.00" fill="#000" stroke="none" stroke-width="1.2" opacity="0.059"/>
<rect x="307.80" y="248.54" width="12.80" height="2.40" fill="#000" stroke="none" stroke-width="1.2" opacity="0.081"/>
<rect x="307.80" y="253.21" width="12.80" height="1.60" fill="#000" stroke="none" stroke-width="1.2" opacity="0.035"/>
<rect x="307.80" y="256.72" width="12.80" height="2.40" fill="#000" stroke="none" stroke-width="1.2" opacity="0.056"/>
<rect x="307.80" y="261.87" width="12.80" height="3.00" fill="#000" stroke="none" stroke-width="1.2" opacity="0.046"/>
<rect x="307.80" y="266.62" width="12.80" height="2.00" fill="#000" stroke="none" stroke-width="1.2" opacity="0.062"/>
<rect x="307.80" y="270.57" width="12.80" height="2.60" fill="#000" stroke="none" stroke-width="1.2" opacity="0.258"/>
<rect x="307.80" y="274.99" width="12.80" height="2.20" fill="#000" stroke="none" stroke-width="1.2" opacity="0.207"/>
<rect x="307.80" y="277.92" width="12.80" height="2.00" fill="#000" stroke="none" stroke-width="1.2" opacity="0.098"/>
<rect x="307.80" y="280.34" width="12.80" height="2.20" fill="#000" stroke="none" stroke-width="1.2" opacity="0.163"/>
<rect x="307.80" y="285.22" width="12.80" height="2.80" fill="#000" stroke="none" stroke-width="1.2" opacity="0.356"/>
<rect x="307.80" y="290.74" width="12.80" height="2.00" fill="#000" stroke="none" stroke-width="1.2" opacity="0.064"/>
<rect x="307.80" y="293.99" width="12.80" height="2.00" fill="#000" stroke="none" stroke-width="1.2" opacity="0.059"/>
<rect x="307.80" y="300.48" width="12.80" height="2.20" fill="#000" stroke="none" stroke-width="1.2" opacity="0.129"/>
<rect x="307.80" y="304.30" width="12.80" height="1.60" fill="#000" stroke="none" stroke-width="1.2" opacity="0.032"/>
<rect x="307.80" y="308.17" width="12.80" height="2.00" fill="#000" stroke="none" stroke-width="1.2" opacity="0.108"/>
<rect x="307.80" y="314.99" width="12.80" height="2.00" fill="#000" stroke="none" stroke-width="1.2" opacity="0.045"/>
<rect x="307.80" y="320.17" width="12.80" height="2.00" fill="#000" stroke="none" stroke-width="1.2" opacity="0.042"/>
<rect x="307.80" y="326.78" width="12.80" height="2.20" fill="#000" stroke="none" stroke-width="1.2" opacity="0.110"/>
<rect x="307.80" y="332.54" width="12.80" height="2.20" fill="#000" stroke="none" stroke-width="1.2" opacity="0.161"/>
<rect x="307.80" y="337.27" width="12.80" height="2.00" fill="#000" stroke="none" stroke-width="1.2" opacity="0.067"/>
<rect x="307.80" y="342.80" width="12.80" height="2.00" fill="#000" stroke="none" stroke-width="1.2" opacity="0.033"/>
<rect x="322.60" y="221.39" width="12.80" height="2.00" fill="#000" stroke="none" stroke-width="1.2" opacity="0.024"/>
<rect x="322.60" y="226.03" width="12.80" height="2.50" fill="#000" stroke="none" stroke-width="1.2" opacity="0.060"/>
<rect x="322.60" y="230.80" width="12.80" height="2.00" fill="#000" stroke="none" stroke-width="1.2" opacity="0.033"/>
<rect x="322.60" y="234.39" width="12.80" height="1.60" fill="#000" stroke="none" stroke-width="1.2" opacity="0.050"/>
<rect x="322.60" y="237.63" width="12.80" height="4.60" fill="#000" stroke="none" stroke-width="1.2" opacity="0.204"/>
<rect x="322.60" y="243.31" width="12.80" height="2.00" fill="#000" stroke="none" stroke-width="1.2" opacity="0.041"/>
<rect x="322.60" y="249.09" width="12.80" height="2.40" fill="#000" stroke="none" stroke-width="1.2" opacity="0.086"/>
<rect x="322.60" y="254.06" width="12.80" height="1.60" fill="#000" stroke="none" stroke-width="1.2" opacity="0.041"/>
<rect x="322.60" y="257.82" width="12.80" height="2.40" fill="#000" stroke="none" stroke-width="1.2" opacity="0.058"/>
<rect x="322.60" y="262.43" width="12.80" height="3.00" fill="#000" stroke="none" stroke-width="1.2" opacity="0.070"/>
<rect x="322.60" y="266.98" width="12.80" height="2.00" fill="#000" stroke="none" stroke-width="1.2" opacity="0.061"/>
<rect x="322.60" y="271.25" width="12.80" height="2.60" fill="#000" stroke="none" stroke-width="1.2" opacity="0.183"/>
<rect x="322.60" y="275.25" width="12.80" height="2.20" fill="#000" stroke="none" stroke-width="1.2" opacity="0.150"/>
<rect x="322.60" y="278.85" width="12.80" height="2.00" fill="#000" stroke="none" stroke-width="1.2" opacity="0.065"/>
<rect x="322.60" y="281.07" width="12.80" height="2.20" fill="#000" stroke="none" stroke-width="1.2" opacity="0.176"/>
<rect x="322.60" y="286.24" width="12.80" height="2.80" fill="#000" stroke="none" stroke-width="1.2" opacity="0.438"/>
<rect x="322.60" y="291.35" width="12.80" height="2.00" fill="#000" stroke="none" stroke-width="1.2" opacity="0.058"/>
<rect x="322.60" y="294.62" width="12.80" height="2.00" fill="#000" stroke="none" stroke-width="1.2" opacity="0.050"/>
<rect x="322.60" y="300.61" width="12.80" height="2.20" fill="#000" stroke="none" stroke-width="1.2" opacity="0.121"/>
<rect x="322.60" y="304.61" width="12.80" height="1.60" fill="#000" stroke="none" stroke-width="1.2" opacity="0.039"/>
<rect x="322.60" y="308.78" width="12.80" height="2.00" fill="#000" stroke="none" stroke-width="1.2" opacity="0.068"/>
<rect x="322.60" y="315.58" width="12.80" height="2.00" fill="#000" stroke="none" stroke-width="1.2" opacity="0.033"/>
<rect x="322.60" y="320.63" width="12.80" height="2.00" fill="#000" stroke="none" stroke-width="1.2" opacity="0.056"/>
<rect x="322.60" y="327.21" width="12.80" height="2.20" fill="#000" stroke="none" stroke-width="1.2" opacity="0.110"/>
<rect x="322.60" y="333.37" width="12.80" height="2.20" fill="#000" stroke="none" stroke-width="1.2" opacity="0.134"/>
<rect x="322.60" y="337.64" width="12.80" height="2.00" fill="#000" stroke="none" stroke-width="1.2" opacity="0.056"/>
<rect x="322.60" y="343.47" width="12.80" height="2.00" fill="#000" stroke="none" stroke-width="1.2" opacity="0.026"/>
<rect x="336.80" y="221.90" width="12.80" height="2.00" fill="#000" stroke="none" stroke-width="1.2" opacity="0.034"/>
<rect x="336.80" y="226.31" width="12.80" height="2.50" fill="#000" stroke="none" stroke-width="1.2" opacity="0.052"/>
<rect x="336.80" y="230.87" width="12.80" height="2.00" fill="#000" stroke="none" stroke-width="1.2" opacity="0.048"/>
<rect x="336.80" y="234.60" width="12.80" height="1.60" fill="#000" stroke="none" stroke-width="1.2" opacity="0.042"/>
<rect x="336.80" y="238.02" width="12.80" height="4.60" fill="#000" stroke="none" stroke-width="1.2" opacity="0.221"/>
<rect x="336.80" y="243.92" width="12.80" height="2.00" fill="#000" stroke="none" stroke-width="1.2" opacity="0.049"/>
<rect x="336.80" y="249.56" width="12.80" height="2.40" fill="#000" stroke="none" stroke-width="1.2" opacity="0.069"/>
<rect x="336.80" y="254.33" width="12.80" height="1.60" fill="#000" stroke="none" stroke-width="1.2" opacity="0.044"/>
<rect x="336.80" y="257.76" width="12.80" height="2.40" fill="#000" stroke="none" stroke-width="1.2" opacity="0.073"/>
<rect x="336.80" y="263.17" width="12.80" height="3.00" fill="#000" stroke="none" stroke-width="1.2" opacity="0.062"/>
<rect x="336.80" y="267.18" width="12.80" height="2.00" fill="#000" stroke="none" stroke-width="1.2" opacity="0.082"/>
<rect x="336.80" y="271.47" width="12.80" height="2.60" fill="#000" stroke="none" stroke-width="1.2" opacity="0.170"/>
<rect x="336.80" y="275.44" width="12.80" height="2.20" fill="#000" stroke="none" stroke-width="1.2" opacity="0.134"/>
<rect x="336.80" y="279.00" width="12.80" height="2.00" fill="#000" stroke="none" stroke-width="1.2" opacity="0.063"/>
<rect x="336.80" y="281.64" width="12.80" height="2.20" fill="#000" stroke="none" stroke-width="1.2" opacity="0.217"/>
<rect x="336.80" y="286.43" width="12.80" height="2.80" fill="#000" stroke="none" stroke-width="1.2" opacity="0.347"/>
<rect x="336.80" y="291.19" width="12.80" height="2.00" fill="#000" stroke="none" stroke-width="1.2" opacity="0.065"/>
<rect x="336.80" y="295.18" width="12.80" height="2.00" fill="#000" stroke="none" stroke-width="1.2" opacity="0.060"/>
<rect x="336.80" y="301.47" width="12.80" height="2.20" fill="#000" stroke="none" stroke-width="1.2" opacity="0.103"/>
<rect x="336.80" y="305.09" width="12.80" height="1.60" fill="#000" stroke="none" stroke-width="1.2" opacity="0.038"/>
<rect x="336.80" y="309.10" width="12.80" height="2.00" fill="#000" stroke="none" stroke-width="1.2" opacity="0.112"/>
<rect x="336.80" y="315.86" width="12.80" height="2.00" fill="#000" stroke="none" stroke-width="1.2" opacity="0.033"/>
<rect x="336.80" y="320.80" width="12.80" height="2.00" fill="#000" stroke="none" stroke-width="1.2" opacity="0.050"/>
<rect x="336.80" y="327.39" width="12.80" height="2.20" fill="#000" stroke="none" stroke-width="1.2" opacity="0.102"/>
<rect x="336.80" y="333.21" width="12.80" height="2.20" fill="#000" stroke="none" stroke-width="1.2" opacity="0.144"/>
<rect x="336.80" y="337.86" width="12.80" height="2.00" fill="#000" stroke="none" stroke-width="1.2" opacity="0.072"/>
<rect x="336.80" y="343.80" width="12.80" height="2.00" fill="#000" stroke="none" stroke-width="1.2" opacity="0.023"/>
<rect x="351.20" y="222.01" width="12.80" height="2.00" fill="#000" stroke="none" stroke-width="1.2" opacity="0.032"/>
<rect x="351.20" y="226.54" width="12.80" height="2.50" fill="#000" stroke="none" stroke-width="1.2" opacity="0.039"/>
<rect x="351.20" y="231.28" width="12.80" height="2.00" fill="#000" stroke="none" stroke-width="1.2" opacity="0.046"/>
<rect x="351.20" y="234.56" width="12.80" height="1.60" fill="#000" stroke="none" stroke-width="1.2" opacity="0.032"/>
<rect x="351.20" y="238.17" width="12.80" height="4.60" fill="#000" stroke="none" stroke-width="1.2" opacity="0.169"/>
<rect x="351.20" y="243.78" width="12.80" height="2.00" fill="#000" stroke="none" stroke-width="1.2" opacity="0.044"/>
<rect x="351.20" y="249.65" width="12.80" height="2.40" fill="#000" stroke="none" stroke-width="1.2" opacity="0.067"/>
<rect x="351.20" y="254.06" width="12.80" height="1.60" fill="#000" stroke="none" stroke-width="1.2" opacity="0.046"/>
<rect x="351.20" y="258.25" width="12.80" height="2.40" fill="#000" stroke="none" stroke-width="1.2" opacity="0.049"/>
<rect x="351.20" y="263.12" width="12.80" height="3.00" fill="#000" stroke="none" stroke-width="1.2" opacity="0.062"/>
<rect x="351.20" y="267.23" width="12.80" height="2.00" fill="#000" stroke="none" stroke-width="1.2" opacity="0.056"/>
<rect x="351.20" y="271.56" width="12.80" height="2.60" fill="#000" stroke="none" stroke-width="1.2" opacity="0.230"/>
<rect x="351.20" y="275.96" width="12.80" height="2.20" fill="#000" stroke="none" stroke-width="1.2" opacity="0.134"/>
<rect x="351.20" y="279.18" width="12.80" height="2.00" fill="#000" stroke="none" stroke-width="1.2" opacity="0.085"/>
<rect x="351.20" y="281.71" width="12.80" height="2.20" fill="#000" stroke="none" stroke-width="1.2" opacity="0.150"/>
<rect x="351.20" y="286.62" width="12.80" height="2.80" fill="#000" stroke="none" stroke-width="1.2" opacity="0.329"/>
<rect x="351.20" y="291.40" width="12.80" height="2.00" fill="#000" stroke="none" stroke-width="1.2" opacity="0.059"/>
<rect x="351.20" y="295.26" width="12.80" height="2.00" fill="#000" stroke="none" stroke-width="1.2" opacity="0.051"/>
<rect x="351.20" y="301.08" width="12.80" height="2.20" fill="#000" stroke="none" stroke-width="1.2" opacity="0.106"/>
<rect x="351.20" y="305.04" width="12.80" height="1.60" fill="#000" stroke="none" stroke-width="1.2" opacity="0.041"/>
<rect x="351.20" y="308.80" width="12.80" height="2.00" fill="#000" stroke="none" stroke-width="1.2" opacity="0.072"/>
<rect x="351.20" y="315.82" width="12.80" height="2.00" fill="#000" stroke="none" stroke-width="1.2" opacity="0.031"/>
<rect x="351.20" y="320.88" width="12.80" height="2.00" fill="#000" stroke="none" stroke-width="1.2" opacity="0.045"/>
<rect x="351.20" y="327.47" width="12.80" height="2.20" fill="#000" stroke="none" stroke-width="1.2" opacity="0.136"/>
<rect x="351.20" y="333.41" width="12.80" height="2.20" fill="#000" stroke="none" stroke-width="1.2" opacity="0.130"/>
<rect x="351.20" y="337.71" width="12.80" height="2.00" fill="#000" stroke="none" stroke-width="1.2" opacity="0.065"/>
<rect x="351.20" y="343.71" width="12.80" height="2.00" fill="#000" stroke="none" stroke-width="1.2" opacity="0.026"/>
<rect x="366.10" y="222.03" width="12.80" height="2.00" fill="#000" stroke="none" stroke-width="1.2" opacity="0.033"/>
<rect x="366.10" y="226.23" width="12.80" height="2.50" fill="#000" stroke="none" stroke-width="1.2" opacity="0.042"/>
<rect x="366.10" y="230.76" width="12.80" height="2.00" fill="#000" stroke="none" stroke-width="1.2" opacity="0.049"/>
<rect x="366.10" y="234.66" width="12.80" height="1.60" fill="#000" stroke="none" stroke-width="1.2" opacity="0.046"/>
<rect x="366.10" y="238.20" width="12.80" height="4.60" fill="#000" stroke="none" stroke-width="1.2" opacity="0.219"/>
<rect x="366.10" y="244.00" width="12.80" height="2.00" fill="#000" stroke="none" stroke-width="1.2" opacity="0.047"/>
<rect x="366.10" y="249.69" width="12.80" height="2.40" fill="#000" stroke="none" stroke-width="1.2" opacity="0.077"/>
<rect x="366.10" y="254.40" width="12.80" height="1.60" fill="#000" stroke="none" stroke-width="1.2" opacity="0.037"/>
<rect x="366.10" y="258.08" width="12.80" height="2.40" fill="#000" stroke="none" stroke-width="1.2" opacity="0.066"/>
<rect x="366.10" y="262.91" width="12.80" height="3.00" fill="#000" stroke="none" stroke-width="1.2" opacity="0.057"/>
<rect x="366.10" y="267.28" width="12.80" height="2.00" fill="#000" stroke="none" stroke-width="1.2" opacity="0.054"/>
<rect x="366.10" y="271.74" width="12.80" height="2.60" fill="#000" stroke="none" stroke-width="1.2" opacity="0.165"/>
<rect x="366.10" y="275.50" width="12.80" height="2.20" fill="#000" stroke="none" stroke-width="1.2" opacity="0.149"/>
<rect x="366.10" y="279.20" width="12.80" height="2.00" fill="#000" stroke="none" stroke-width="1.2" opacity="0.063"/>
<rect x="366.10" y="281.60" width="12.80" height="2.20" fill="#000" stroke="none" stroke-width="1.2" opacity="0.225"/>
<rect x="366.10" y="286.25" width="12.80" height="2.80" fill="#000" stroke="none" stroke-width="1.2" opacity="0.374"/>
<rect x="366.10" y="291.48" width="12.80" height="2.00" fill="#000" stroke="none" stroke-width="1.2" opacity="0.054"/>
<rect x="366.10" y="294.97" width="12.80" height="2.00" fill="#000" stroke="none" stroke-width="1.2" opacity="0.041"/>
<rect x="366.10" y="301.58" width="12.80" height="2.20" fill="#000" stroke="none" stroke-width="1.2" opacity="0.106"/>
<rect x="366.10" y="305.23" width="12.80" height="1.60" fill="#000" stroke="none" stroke-width="1.2" opacity="0.049"/>
<rect x="366.10" y="309.28" width="12.80" height="2.00" fill="#000" stroke="none" stroke-width="1.2" opacity="0.079"/>
<rect x="366.10" y="315.91" width="12.80" height="2.00" fill="#000" stroke="none" stroke-width="1.2" opacity="0.036"/>
<rect x="366.10" y="320.93" width="12.80" height="2.00" fill="#000" stroke="none" stroke-width="1.2" opacity="0.038"/>
<rect x="366.10" y="327.60" width="12.80" height="2.20" fill="#000" stroke="none" stroke-width="1.2" opacity="0.118"/>
<rect x="366.10" y="333.60" width="12.80" height="2.20" fill="#000" stroke="none" stroke-width="1.2" opacity="0.111"/>
<rect x="366.10" y="337.86" width="12.80" height="2.00" fill="#000" stroke="none" stroke-width="1.2" opacity="0.053"/>
<rect x="366.10" y="343.94" width="12.80" height="2.00" fill="#000" stroke="none" stroke-width="1.2" opacity="0.024"/>
<rect x="381.10" y="221.71" width="12.80" height="2.00" fill="#000" stroke="none" stroke-width="1.2" opacity="0.023"/>
<rect x="381.10" y="226.09" width="12.80" height="2.50" fill="#000" stroke="none" stroke-width="1.2" opacity="0.045"/>
<rect x="381.10" y="231.02" width="12.80" height="2.00" fill="#000" stroke="none" stroke-width="1.2" opacity="0.042"/>
<rect x="381.10" y="234.79" width="12.80" height="1.60" fill="#000" stroke="none" stroke-width="1.2" opacity="0.045"/>
<rect x="381.10" y="238.23" width="12.80" height="4.60" fill="#000" stroke="none" stroke-width="1.2" opacity="0.244"/>
<rect x="381.10" y="243.90" width="12.80" height="2.00" fill="#000" stroke="none" stroke-width="1.2" opacity="0.047"/>
<rect x="381.10" y="249.19" width="12.80" height="2.40" fill="#000" stroke="none" stroke-width="1.2" opacity="0.087"/>
<rect x="381.10" y="254.29" width="12.80" height="1.60" fill="#000" stroke="none" stroke-width="1.2" opacity="0.044"/>
<rect x="381.10" y="258.20" width="12.80" height="2.40" fill="#000" stroke="none" stroke-width="1.2" opacity="0.046"/>
<rect x="381.10" y="263.08" width="12.80" height="3.00" fill="#000" stroke="none" stroke-width="1.2" opacity="0.072"/>
<rect x="381.10" y="267.69" width="12.80" height="2.00" fill="#000" stroke="none" stroke-width="1.2" opacity="0.078"/>
<rect x="381.10" y="271.61" width="12.80" height="2.60" fill="#000" stroke="none" stroke-width="1.2" opacity="0.172"/>
<rect x="381.10" y="275.90" width="12.80" height="2.20" fill="#000" stroke="none" stroke-width="1.2" opacity="0.170"/>
<rect x="381.10" y="279.20" width="12.80" height="2.00" fill="#000" stroke="none" stroke-width="1.2" opacity="0.092"/>
<rect x="381.10" y="281.74" width="12.80" height="2.20" fill="#000" stroke="none" stroke-width="1.2" opacity="0.198"/>
<rect x="381.10" y="286.52" width="12.80" height="2.80" fill="#000" stroke="none" stroke-width="1.2" opacity="0.458"/>
<rect x="381.10" y="291.22" width="12.80" height="2.00" fill="#000" stroke="none" stroke-width="1.2" opacity="0.052"/>
<rect x="381.10" y="294.92" width="12.80" height="2.00" fill="#000" stroke="none" stroke-width="1.2" opacity="0.041"/>
<rect x="381.10" y="301.50" width="12.80" height="2.20" fill="#000" stroke="none" stroke-width="1.2" opacity="0.096"/>
<rect x="381.10" y="305.28" width="12.80" height="1.60" fill="#000" stroke="none" stroke-width="1.2" opacity="0.041"/>
<rect x="381.10" y="309.11" width="12.80" height="2.00" fill="#000" stroke="none" stroke-width="1.2" opacity="0.096"/>
<rect x="381.10" y="315.70" width="12.80" height="2.00" fill="#000" stroke="none" stroke-width="1.2" opacity="0.040"/>
<rect x="381.10" y="321.15" width="12.80" height="2.00" fill="#000" stroke="none" stroke-width="1.2" opacity="0.057"/>
<rect x="381.10" y="327.62" width="12.80" height="2.20" fill="#000" stroke="none" stroke-width="1.2" opacity="0.120"/>
<rect x="381.10" y="333.34" width="12.80" height="2.20" fill="#000" stroke="none" stroke-width="1.2" opacity="0.140"/>
<rect x="381.10" y="337.85" width="12.80" height="2.00" fill="#000" stroke="none" stroke-width="1.2" opacity="0.078"/>
<rect x="381.10" y="343.86" width="12.80" height="2.00" fill="#000" stroke="none" stroke-width="1.2" opacity="0.024"/>
<rect x="395.90" y="221.62" width="12.80" height="2.00" fill="#000" stroke="none" stroke-width="1.2" opacity="0.033"/>
<rect x="395.90" y="226.34" width="12.80" height="2.50" fill="#000" stroke="none" stroke-width="1.2" opacity="0.056"/>
<rect x="395.90" y="230.73" width="12.80" height="2.00" fill="#000" stroke="none" stroke-width="1.2" opacity="0.040"/>
<rect x="395.90" y="234.61" width="12.80" height="1.60" fill="#000" stroke="none" stroke-width="1.2" opacity="0.040"/>
<rect x="395.90" y="237.87" width="12.80" height="4.60" fill="#000" stroke="none" stroke-width="1.2" opacity="0.249"/>
<rect x="395.90" y="243.55" width="12.80" height="2.00" fill="#000" stroke="none" stroke-width="1.2" opacity="0.054"/>
<rect x="395.90" y="249.05" width="12.80" height="2.40" fill="#000" stroke="none" stroke-width="1.2" opacity="0.058"/>
<rect x="395.90" y="253.88" width="12.80" height="1.60" fill="#000" stroke="none" stroke-width="1.2" opacity="0.045"/>
<rect x="395.90" y="257.51" width="12.80" height="2.40" fill="#000" stroke="none" stroke-width="1.2" opacity="0.062"/>
<rect x="395.90" y="262.66" width="12.80" height="3.00" fill="#000" stroke="none" stroke-width="1.2" opacity="0.047"/>
<rect x="395.90" y="267.42" width="12.80" height="2.00" fill="#000" stroke="none" stroke-width="1.2" opacity="0.076"/>
<rect x="395.90" y="271.27" width="12.80" height="2.60" fill="#000" stroke="none" stroke-width="1.2" opacity="0.228"/>
<rect x="395.90" y="275.48" width="12.80" height="2.20" fill="#000" stroke="none" stroke-width="1.2" opacity="0.171"/>
<rect x="395.90" y="278.57" width="12.80" height="2.00" fill="#000" stroke="none" stroke-width="1.2" opacity="0.079"/>
<rect x="395.90" y="281.12" width="12.80" height="2.20" fill="#000" stroke="none" stroke-width="1.2" opacity="0.227"/>
<rect x="395.90" y="286.46" width="12.80" height="2.80" fill="#000" stroke="none" stroke-width="1.2" opacity="0.520"/>
<rect x="395.90" y="291.28" width="12.80" height="2.00" fill="#000" stroke="none" stroke-width="1.2" opacity="0.046"/>
<rect x="395.90" y="295.08" width="12.80" height="2.00" fill="#000" stroke="none" stroke-width="1.2" opacity="0.058"/>
<rect x="395.90" y="300.96" width="12.80" height="2.20" fill="#000" stroke="none" stroke-width="1.2" opacity="0.117"/>
<rect x="395.90" y="305.27" width="12.80" height="1.60" fill="#000" stroke="none" stroke-width="1.2" opacity="0.034"/>
<rect x="395.90" y="308.85" width="12.80" height="2.00" fill="#000" stroke="none" stroke-width="1.2" opacity="0.077"/>
<rect x="395.90" y="315.81" width="12.80" height="2.00" fill="#000" stroke="none" stroke-width="1.2" opacity="0.033"/>
<rect x="395.90" y="320.58" width="12.80" height="2.00" fill="#000" stroke="none" stroke-width="1.2" opacity="0.061"/>
<rect x="395.90" y="327.41" width="12.80" height="2.20" fill="#000" stroke="none" stroke-width="1.2" opacity="0.139"/>
<rect x="395.90" y="333.52" width="12.80" height="2.20" fill="#000" stroke="none" stroke-width="1.2" opacity="0.155"/>
<rect x="395.90" y="338.04" width="12.80" height="2.00" fill="#000" stroke="none" stroke-width="1.2" opacity="0.061"/>
<rect x="395.90" y="343.51" width="12.80" height="2.00" fill="#000" stroke="none" stroke-width="1.2" opacity="0.030"/>
<rect x="410.60" y="220.60" width="12.80" height="2.00" fill="#000" stroke="none" stroke-width="1.2" opacity="0.023"/>
<rect x="410.60" y="224.73" width="12.80" height="2.50" fill="#000" stroke="none" stroke-width="1.2" opacity="0.049"/>
<rect x="410.60" y="229.51" width="12.80" height="2.00" fill="#000" stroke="none" stroke-width="1.2" opacity="0.033"/>
<rect x="410.60" y="233.50" width="12.80" height="1.60" fill="#000" stroke="none" stroke-width="1.2" opacity="0.036"/>
<rect x="410.60" y="236.75" width="12.80" height="4.60" fill="#000" stroke="none" stroke-width="1.2" opacity="0.165"/>
<rect x="410.60" y="242.37" width="12.80" height="2.00" fill="#000" stroke="none" stroke-width="1.2" opacity="0.058"/>
<rect x="410.60" y="248.13" width="12.80" height="2.40" fill="#000" stroke="none" stroke-width="1.2" opacity="0.085"/>
<rect x="410.60" y="252.67" width="12.80" height="1.60" fill="#000" stroke="none" stroke-width="1.2" opacity="0.048"/>
<rect x="410.60" y="256.54" width="12.80" height="2.40" fill="#000" stroke="none" stroke-width="1.2" opacity="0.056"/>
<rect x="410.60" y="261.65" width="12.80" height="3.00" fill="#000" stroke="none" stroke-width="1.2" opacity="0.075"/>
<rect x="410.60" y="266.06" width="12.80" height="2.00" fill="#000" stroke="none" stroke-width="1.2" opacity="0.065"/>
<rect x="410.60" y="269.93" width="12.80" height="2.60" fill="#000" stroke="none" stroke-width="1.2" opacity="0.186"/>
<rect x="410.60" y="274.50" width="12.80" height="2.20" fill="#000" stroke="none" stroke-width="1.2" opacity="0.136"/>
<rect x="410.60" y="277.86" width="12.80" height="2.00" fill="#000" stroke="none" stroke-width="1.2" opacity="0.071"/>
<rect x="410.60" y="279.96" width="12.80" height="2.20" fill="#000" stroke="none" stroke-width="1.2" opacity="0.166"/>
<rect x="410.60" y="284.81" width="12.80" height="2.80" fill="#000" stroke="none" stroke-width="1.2" opacity="0.422"/>
<rect x="410.60" y="290.37" width="12.80" height="2.00" fill="#000" stroke="none" stroke-width="1.2" opacity="0.056"/>
<rect x="410.60" y="293.79" width="12.80" height="2.00" fill="#000" stroke="none" stroke-width="1.2" opacity="0.060"/>
<rect x="410.60" y="300.15" width="12.80" height="2.20" fill="#000" stroke="none" stroke-width="1.2" opacity="0.128"/>
<rect x="410.60" y="303.83" width="12.80" height="1.60" fill="#000" stroke="none" stroke-width="1.2" opacity="0.049"/>
<rect x="410.60" y="307.33" width="12.80" height="2.00" fill="#000" stroke="none" stroke-width="1.2" opacity="0.100"/>
<rect x="410.60" y="314.57" width="12.80" height="2.00" fill="#000" stroke="none" stroke-width="1.2" opacity="0.045"/>
<rect x="410.60" y="319.69" width="12.80" height="2.00" fill="#000" stroke="none" stroke-width="1.2" opacity="0.056"/>
<rect x="410.60" y="325.93" width="12.80" height="2.20" fill="#000" stroke="none" stroke-width="1.2" opacity="0.107"/>
<rect x="410.60" y="331.98" width="12.80" height="2.20" fill="#000" stroke="none" stroke-width="1.2" opacity="0.158"/>
<rect x="410.60" y="336.51" width="12.80" height="2.00" fill="#000" stroke="none" stroke-width="1.2" opacity="0.069"/>
<rect x="410.60" y="342.74" width="12.80" height="2.00" fill="#000" stroke="none" stroke-width="1.2" opacity="0.027"/>
</g>
<linearGradient id="tpg" x1="0" y1="0" x2="0" y2="1"><stop offset="0" stop-color="#fff" stop-opacity="0"/><stop offset="1" stop-color="#fff" stop-opacity="0.16"/></linearGradient>
<rect x="259.00" y="295.00" width="165.50" height="60.00" fill="url(#tpg)" stroke="none" stroke-width="1.2" />
</g>
<rect x="259.00" y="215.50" width="165.50" height="139.00" fill="none" stroke="#1e1e1e" stroke-width="1.5" />
<text x="428.40" y="280.60" font-size="10.9" text-anchor="start" fill="#222" >Total</text>
<text x="428.40" y="292.90" font-size="10.9" text-anchor="start" fill="#222" >Protein</text>
<line x1="507.30" y1="16.50" x2="507.30" y2="131.80" stroke="#1a1a1a" stroke-width="1.1" />
<line x1="502.00" y1="131.80" x2="507.30" y2="131.80" stroke="#1a1a1a" stroke-width="1.0" />
<text x="501.60" y="134.60" font-size="7.8" text-anchor="end" fill="#222" textLength="4.0" lengthAdjust="spacingAndGlyphs" >0</text>
<line x1="502.00" y1="93.53" x2="507.30" y2="93.53" stroke="#1a1a1a" stroke-width="1.0" />
<text x="501.60" y="96.33" font-size="7.8" text-anchor="end" fill="#222" textLength="15.8" lengthAdjust="spacingAndGlyphs" >1000</text>
<line x1="502.00" y1="55.27" x2="507.30" y2="55.27" stroke="#1a1a1a" stroke-width="1.0" />
<text x="501.60" y="58.07" font-size="7.8" text-anchor="end" fill="#222" textLength="15.8" lengthAdjust="spacingAndGlyphs" >2000</text>
<line x1="502.00" y1="17.00" x2="507.30" y2="17.00" stroke="#1a1a1a" stroke-width="1.0" />
<text x="501.60" y="19.80" font-size="7.8" text-anchor="end" fill="#222" textLength="15.8" lengthAdjust="spacingAndGlyphs" >3000</text>
<text transform="translate(477.8,79.05) rotate(-90)" font-size="10.6" text-anchor="middle" fill="#222">Relative SOD1 levels (arb. units)</text>
<rect x="513.20" y="70.10" width="10.60" height="61.70" fill="#ffffff" stroke="#1e1e1e" stroke-width="1.2" />
<line x1="518.50" y1="64.60" x2="518.50" y2="75.70" stroke="#1a1a1a" stroke-width="1.0" />
<line x1="516.25" y1="64.60" x2="520.75" y2="64.60" stroke="#1a1a1a" stroke-width="1.0" />
<line x1="516.25" y1="75.70" x2="520.75" y2="75.70" stroke="#1a1a1a" stroke-width="1.0" />
<circle cx="518.60" cy="59.50" r="2.50" fill="#111" stroke="none" stroke-width="0.8"/>
<circle cx="515.40" cy="73.30" r="2.50" fill="#111" stroke="none" stroke-width="0.8"/>
<circle cx="521.90" cy="73.30" r="2.50" fill="#111" stroke="none" stroke-width="0.8"/>
<line x1="518.50" y1="131.80" x2="518.50" y2="137.20" stroke="#1a1a1a" stroke-width="1.0" />
<rect x="530.10" y="52.00" width="10.60" height="79.80" fill="#a6a6a6" stroke="#1e1e1e" stroke-width="1.2" />
<line x1="535.40" y1="38.30" x2="535.40" y2="65.60" stroke="#1a1a1a" stroke-width="1.0" />
<line x1="533.15" y1="38.30" x2="537.65" y2="38.30" stroke="#1a1a1a" stroke-width="1.0" />
<line x1="533.15" y1="65.60" x2="537.65" y2="65.60" stroke="#1a1a1a" stroke-width="1.0" />
<circle cx="535.40" cy="31.50" r="2.50" fill="#111" stroke="none" stroke-width="0.8"/>
<circle cx="535.40" cy="47.00" r="2.50" fill="#111" stroke="none" stroke-width="0.8"/>
<circle cx="535.40" cy="74.50" r="2.50" fill="#111" stroke="none" stroke-width="0.8"/>
<line x1="535.40" y1="131.80" x2="535.40" y2="137.20" stroke="#1a1a1a" stroke-width="1.0" />
<rect x="547.00" y="119.20" width="9.90" height="12.60" fill="#ddd0b6" stroke="#1e1e1e" stroke-width="1.2" />
<line x1="551.95" y1="116.50" x2="551.95" y2="122.50" stroke="#1a1a1a" stroke-width="1.0" />
<line x1="549.70" y1="116.50" x2="554.20" y2="116.50" stroke="#1a1a1a" stroke-width="1.0" />
<line x1="549.70" y1="122.50" x2="554.20" y2="122.50" stroke="#1a1a1a" stroke-width="1.0" />
<circle cx="548.80" cy="115.40" r="2.50" fill="#111" stroke="none" stroke-width="0.8"/>
<circle cx="555.00" cy="115.40" r="2.50" fill="#111" stroke="none" stroke-width="0.8"/>
<circle cx="551.70" cy="125.60" r="2.50" fill="#111" stroke="none" stroke-width="0.8"/>
<line x1="551.95" y1="131.80" x2="551.95" y2="137.20" stroke="#1a1a1a" stroke-width="1.0" />
<rect x="563.40" y="127.10" width="10.50" height="4.70" fill="#cfc8bb" stroke="#1e1e1e" stroke-width="1.2" />
<line x1="568.65" y1="123.60" x2="568.65" y2="130.50" stroke="#1a1a1a" stroke-width="1.0" />
<line x1="566.40" y1="123.60" x2="570.90" y2="123.60" stroke="#1a1a1a" stroke-width="1.0" />
<line x1="566.40" y1="130.50" x2="570.90" y2="130.50" stroke="#1a1a1a" stroke-width="1.0" />
<circle cx="565.50" cy="122.20" r="2.50" fill="#111" stroke="none" stroke-width="0.8"/>
<circle cx="571.80" cy="126.30" r="2.50" fill="#111" stroke="none" stroke-width="0.8"/>
<circle cx="568.60" cy="130.00" r="2.50" fill="#111" stroke="none" stroke-width="0.8"/>
<line x1="568.65" y1="131.80" x2="568.65" y2="137.20" stroke="#1a1a1a" stroke-width="1.0" />
<rect x="579.70" y="128.90" width="11.10" height="2.90" fill="#ddd0b6" stroke="#1e1e1e" stroke-width="1.2" />
<line x1="585.25" y1="126.50" x2="585.25" y2="131.00" stroke="#1a1a1a" stroke-width="1.0" />
<line x1="583.00" y1="126.50" x2="587.50" y2="126.50" stroke="#1a1a1a" stroke-width="1.0" />
<line x1="583.00" y1="131.00" x2="587.50" y2="131.00" stroke="#1a1a1a" stroke-width="1.0" />
<circle cx="585.30" cy="124.80" r="2.50" fill="#111" stroke="none" stroke-width="0.8"/>
<circle cx="582.00" cy="129.80" r="2.50" fill="#111" stroke="none" stroke-width="0.8"/>
<circle cx="589.00" cy="129.80" r="2.50" fill="#111" stroke="none" stroke-width="0.8"/>
<line x1="585.25" y1="131.80" x2="585.25" y2="137.20" stroke="#1a1a1a" stroke-width="1.0" />
<rect x="596.00" y="129.80" width="11.50" height="2.00" fill="#ddd0b6" stroke="#1e1e1e" stroke-width="1.2" />
<line x1="601.75" y1="128.00" x2="601.75" y2="131.00" stroke="#1a1a1a" stroke-width="1.0" />
<line x1="599.50" y1="128.00" x2="604.00" y2="128.00" stroke="#1a1a1a" stroke-width="1.0" />
<line x1="599.50" y1="131.00" x2="604.00" y2="131.00" stroke="#1a1a1a" stroke-width="1.0" />
<circle cx="599.00" cy="126.60" r="2.50" fill="#111" stroke="none" stroke-width="0.8"/>
<circle cx="600.50" cy="130.30" r="2.50" fill="#111" stroke="none" stroke-width="0.8"/>
<circle cx="605.50" cy="130.30" r="2.50" fill="#111" stroke="none" stroke-width="0.8"/>
<line x1="601.75" y1="131.80" x2="601.75" y2="137.20" stroke="#1a1a1a" stroke-width="1.0" />
<rect x="613.20" y="91.30" width="11.30" height="40.50" fill="#91a8d7" stroke="#1e1e1e" stroke-width="1.2" />
<line x1="618.85" y1="83.30" x2="618.85" y2="98.90" stroke="#1a1a1a" stroke-width="1.0" />
<line x1="616.60" y1="83.30" x2="621.10" y2="83.30" stroke="#1a1a1a" stroke-width="1.0" />
<line x1="616.60" y1="98.90" x2="621.10" y2="98.90" stroke="#1a1a1a" stroke-width="1.0" />
<circle cx="618.80" cy="78.40" r="2.50" fill="#111" stroke="none" stroke-width="0.8"/>
<circle cx="618.80" cy="89.80" r="2.50" fill="#111" stroke="none" stroke-width="0.8"/>
<circle cx="618.80" cy="105.40" r="2.50" fill="#111" stroke="none" stroke-width="0.8"/>
<line x1="618.85" y1="131.80" x2="618.85" y2="137.20" stroke="#1a1a1a" stroke-width="1.0" />
<rect x="629.50" y="92.70" width="11.80" height="39.10" fill="#91a8d7" stroke="#1e1e1e" stroke-width="1.2" />
<line x1="635.40" y1="89.10" x2="635.40" y2="97.50" stroke="#1a1a1a" stroke-width="1.0" />
<line x1="633.15" y1="89.10" x2="637.65" y2="89.10" stroke="#1a1a1a" stroke-width="1.0" />
<line x1="633.15" y1="97.50" x2="637.65" y2="97.50" stroke="#1a1a1a" stroke-width="1.0" />
<circle cx="632.40" cy="87.40" r="2.50" fill="#111" stroke="none" stroke-width="0.8"/>
<circle cx="638.90" cy="88.80" r="2.50" fill="#111" stroke="none" stroke-width="0.8"/>
<circle cx="635.50" cy="102.20" r="2.50" fill="#111" stroke="none" stroke-width="0.8"/>
<line x1="635.40" y1="131.80" x2="635.40" y2="137.20" stroke="#1a1a1a" stroke-width="1.0" />
<rect x="646.50" y="76.10" width="11.10" height="55.70" fill="#91a8d7" stroke="#1e1e1e" stroke-width="1.2" />
<line x1="652.05" y1="72.70" x2="652.05" y2="81.30" stroke="#1a1a1a" stroke-width="1.0" />
<line x1="649.80" y1="72.70" x2="654.30" y2="72.70" stroke="#1a1a1a" stroke-width="1.0" />
<line x1="649.80" y1="81.30" x2="654.30" y2="81.30" stroke="#1a1a1a" stroke-width="1.0" />
<circle cx="649.00" cy="69.80" r="2.50" fill="#111" stroke="none" stroke-width="0.8"/>
<circle cx="655.40" cy="72.00" r="2.50" fill="#111" stroke="none" stroke-width="0.8"/>
<circle cx="652.10" cy="86.40" r="2.50" fill="#111" stroke="none" stroke-width="0.8"/>
<line x1="652.05" y1="131.80" x2="652.05" y2="137.20" stroke="#1a1a1a" stroke-width="1.0" />
<rect x="662.60" y="105.10" width="11.90" height="26.70" fill="#91a8d7" stroke="#1e1e1e" stroke-width="1.2" />
<line x1="668.55" y1="103.20" x2="668.55" y2="109.00" stroke="#1a1a1a" stroke-width="1.0" />
<line x1="666.30" y1="103.20" x2="670.80" y2="103.20" stroke="#1a1a1a" stroke-width="1.0" />
<line x1="666.30" y1="109.00" x2="670.80" y2="109.00" stroke="#1a1a1a" stroke-width="1.0" />
<circle cx="669.00" cy="97.80" r="2.50" fill="#111" stroke="none" stroke-width="0.8"/>
<circle cx="669.00" cy="101.80" r="2.50" fill="#111" stroke="none" stroke-width="0.8"/>
<circle cx="669.00" cy="113.00" r="2.50" fill="#111" stroke="none" stroke-width="0.8"/>
<line x1="668.55" y1="131.80" x2="668.55" y2="137.20" stroke="#1a1a1a" stroke-width="1.0" />
<line x1="507.30" y1="131.80" x2="680.60" y2="131.80" stroke="#1a1a1a" stroke-width="1.4" />
<polyline points="550.90,105.50 550.90,68.80 620.10,68.80 620.10,72.20" stroke="#1a1a1a" stroke-width="1.0" fill="none" stroke-linejoin="miter" />
<line x1="585.90" y1="63.90" x2="588.90" y2="63.90" stroke="#3a3a3a" stroke-width="0.7" />
<line x1="586.65" y1="62.60" x2="588.15" y2="65.20" stroke="#3a3a3a" stroke-width="0.7" />
<line x1="588.15" y1="62.60" x2="586.65" y2="65.20" stroke="#3a3a3a" stroke-width="0.7" />
<polyline points="567.20,58.50 567.20,54.20 636.10,54.20 636.10,76.70" stroke="#1a1a1a" stroke-width="1.0" fill="none" stroke-linejoin="miter" />
<line x1="597.45" y1="50.30" x2="600.45" y2="50.30" stroke="#3a3a3a" stroke-width="0.7" />
<line x1="598.20" y1="49.00" x2="599.70" y2="51.60" stroke="#3a3a3a" stroke-width="0.7" />
<line x1="599.70" y1="49.00" x2="598.20" y2="51.60" stroke="#3a3a3a" stroke-width="0.7" />
<line x1="601.95" y1="50.30" x2="604.95" y2="50.30" stroke="#3a3a3a" stroke-width="0.7" />
<line x1="602.70" y1="49.00" x2="604.20" y2="51.60" stroke="#3a3a3a" stroke-width="0.7" />
<line x1="604.20" y1="49.00" x2="602.70" y2="51.60" stroke="#3a3a3a" stroke-width="0.7" />
<polyline points="584.30,45.50 584.30,41.50 653.20,41.50 653.20,65.00" stroke="#1a1a1a" stroke-width="1.0" fill="none" stroke-linejoin="miter" />
<line x1="617.35" y1="36.30" x2="620.35" y2="36.30" stroke="#3a3a3a" stroke-width="0.7" />
<line x1="618.10" y1="35.00" x2="619.60" y2="37.60" stroke="#3a3a3a" stroke-width="0.7" />
<line x1="619.60" y1="35.00" x2="618.10" y2="37.60" stroke="#3a3a3a" stroke-width="0.7" />
<line x1="621.45" y1="36.30" x2="624.45" y2="36.30" stroke="#3a3a3a" stroke-width="0.7" />
<line x1="622.20" y1="35.00" x2="623.70" y2="37.60" stroke="#3a3a3a" stroke-width="0.7" />
<line x1="623.70" y1="35.00" x2="622.20" y2="37.60" stroke="#3a3a3a" stroke-width="0.7" />
<line x1="625.55" y1="36.30" x2="628.55" y2="36.30" stroke="#3a3a3a" stroke-width="0.7" />
<line x1="626.30" y1="35.00" x2="627.80" y2="37.60" stroke="#3a3a3a" stroke-width="0.7" />
<line x1="627.80" y1="35.00" x2="626.30" y2="37.60" stroke="#3a3a3a" stroke-width="0.7" />
<line x1="629.65" y1="36.30" x2="632.65" y2="36.30" stroke="#3a3a3a" stroke-width="0.7" />
<line x1="630.40" y1="35.00" x2="631.90" y2="37.60" stroke="#3a3a3a" stroke-width="0.7" />
<line x1="631.90" y1="35.00" x2="630.40" y2="37.60" stroke="#3a3a3a" stroke-width="0.7" />
<polyline points="601.30,34.80 601.30,30.20 670.30,30.20 670.30,86.10" stroke="#1a1a1a" stroke-width="1.0" fill="none" stroke-linejoin="miter" />
<line x1="636.20" y1="25.60" x2="639.20" y2="25.60" stroke="#3a3a3a" stroke-width="0.7" />
<line x1="636.95" y1="24.30" x2="638.45" y2="26.90" stroke="#3a3a3a" stroke-width="0.7" />
<line x1="638.45" y1="24.30" x2="636.95" y2="26.90" stroke="#3a3a3a" stroke-width="0.7" />
<text transform="translate(521.5,143.3) rotate(-45)" font-size="10.2" text-anchor="end" fill="#222">SOD1<tspan font-size="5.6" dy="-4.2">G93A</tspan></text>
<text transform="translate(538.5,143.9) rotate(-45)" font-size="10.2" text-anchor="end" fill="#222">Control</text>
<polygon points="549.40,151.90 602.10,143.00 602.10,151.90" stroke="#1a1a1a" stroke-width="1.1" fill="#fff" />
<polygon points="618.30,151.90 671.60,143.00 671.60,151.90" stroke="#1a1a1a" stroke-width="1.1" fill="#fff" />
<text x="581.80" y="165.60" font-size="10.3" text-anchor="middle" fill="#222" >BP2</text>
<text x="627.30" y="165.60" font-size="10.3" text-anchor="start" fill="#222" >BP2</text>
<polygon points="648.20,162.30 651.60,157.40 655.00,162.30" stroke="#2a2a2a" stroke-width="0.95" fill="none" stroke-linejoin="miter"/>
<text x="655.50" y="162.30" font-size="6.5" text-anchor="start" fill="#333" textLength="13.1" lengthAdjust="spacingAndGlyphs" >CHIP</text>
<line x1="508.30" y1="216.90" x2="508.30" y2="323.40" stroke="#1a1a1a" stroke-width="1.1" />
<line x1="503.00" y1="323.40" x2="508.30" y2="323.40" stroke="#1a1a1a" stroke-width="1.0" />
<text x="502.60" y="326.20" font-size="7.8" text-anchor="end" fill="#222" textLength="4.0" lengthAdjust="spacingAndGlyphs" >0</text>
<line x1="503.00" y1="302.20" x2="508.30" y2="302.20" stroke="#1a1a1a" stroke-width="1.0" />
<text x="502.60" y="305.00" font-size="7.8" text-anchor="end" fill="#222" textLength="11.9" lengthAdjust="spacingAndGlyphs" >500</text>
<line x1="503.00" y1="281.00" x2="508.30" y2="281.00" stroke="#1a1a1a" stroke-width="1.0" />
<text x="502.60" y="283.80" font-size="7.8" text-anchor="end" fill="#222" textLength="15.8" lengthAdjust="spacingAndGlyphs" >1000</text>
<line x1="503.00" y1="259.80" x2="508.30" y2="259.80" stroke="#1a1a1a" stroke-width="1.0" />
<text x="502.60" y="262.60" font-size="7.8" text-anchor="end" fill="#222" textLength="15.8" lengthAdjust="spacingAndGlyphs" >1500</text>
<line x1="503.00" y1="238.60" x2="508.30" y2="238.60" stroke="#1a1a1a" stroke-width="1.0" />
<text x="502.60" y="241.40" font-size="7.8" text-anchor="end" fill="#222" textLength="15.8" lengthAdjust="spacingAndGlyphs" >2000</text>
<line x1="503.00" y1="217.40" x2="508.30" y2="217.40" stroke="#1a1a1a" stroke-width="1.0" />
<text x="502.60" y="220.20" font-size="7.8" text-anchor="end" fill="#222" textLength="15.8" lengthAdjust="spacingAndGlyphs" >2500</text>
<text transform="translate(478.5,269.6) rotate(-90)" font-size="10.55" text-anchor="middle" fill="#222">Relative Hsp70 levels (arb. units)</text>
<rect x="514.30" y="290.10" width="9.50" height="33.30" fill="#ffffff" stroke="#1e1e1e" stroke-width="1.2" />
<line x1="519.05" y1="276.20" x2="519.05" y2="303.40" stroke="#1a1a1a" stroke-width="1.0" />
<line x1="516.80" y1="276.20" x2="521.30" y2="276.20" stroke="#1a1a1a" stroke-width="1.0" />
<line x1="516.80" y1="303.40" x2="521.30" y2="303.40" stroke="#1a1a1a" stroke-width="1.0" />
<circle cx="519.00" cy="264.70" r="2.50" fill="#111" stroke="none" stroke-width="0.8"/>
<circle cx="519.00" cy="294.00" r="2.50" fill="#111" stroke="none" stroke-width="0.8"/>
<circle cx="519.00" cy="310.90" r="2.50" fill="#111" stroke="none" stroke-width="0.8"/>
<line x1="519.05" y1="323.40" x2="519.05" y2="328.60" stroke="#1a1a1a" stroke-width="1.0" />
<rect x="530.10" y="262.40" width="9.00" height="61.00" fill="#a6a6a6" stroke="#1e1e1e" stroke-width="1.2" />
<line x1="534.60" y1="246.20" x2="534.60" y2="277.00" stroke="#1a1a1a" stroke-width="1.0" />
<line x1="532.35" y1="246.20" x2="536.85" y2="246.20" stroke="#1a1a1a" stroke-width="1.0" />
<line x1="532.35" y1="277.00" x2="536.85" y2="277.00" stroke="#1a1a1a" stroke-width="1.0" />
<circle cx="534.60" cy="232.70" r="2.50" fill="#111" stroke="none" stroke-width="0.8"/>
<circle cx="534.60" cy="267.60" r="2.50" fill="#111" stroke="none" stroke-width="0.8"/>
<circle cx="534.60" cy="285.00" r="2.50" fill="#111" stroke="none" stroke-width="0.8"/>
<line x1="534.60" y1="323.40" x2="534.60" y2="328.60" stroke="#1a1a1a" stroke-width="1.0" />
<rect x="545.20" y="264.20" width="9.40" height="59.20" fill="#ddd0b6" stroke="#1e1e1e" stroke-width="1.2" />
<line x1="549.90" y1="249.40" x2="549.90" y2="278.20" stroke="#1a1a1a" stroke-width="1.0" />
<line x1="547.65" y1="249.40" x2="552.15" y2="249.40" stroke="#1a1a1a" stroke-width="1.0" />
<line x1="547.65" y1="278.20" x2="552.15" y2="278.20" stroke="#1a1a1a" stroke-width="1.0" />
<circle cx="550.00" cy="236.50" r="2.50" fill="#111" stroke="none" stroke-width="0.8"/>
<circle cx="550.00" cy="268.70" r="2.50" fill="#111" stroke="none" stroke-width="0.8"/>
<circle cx="550.00" cy="285.60" r="2.50" fill="#111" stroke="none" stroke-width="0.8"/>
<line x1="549.90" y1="323.40" x2="549.90" y2="328.60" stroke="#1a1a1a" stroke-width="1.0" />
<rect x="560.50" y="274.40" width="9.50" height="49.00" fill="#ddd0b6" stroke="#1e1e1e" stroke-width="1.2" />
<line x1="565.25" y1="263.60" x2="565.25" y2="284.30" stroke="#1a1a1a" stroke-width="1.0" />
<line x1="563.00" y1="263.60" x2="567.50" y2="263.60" stroke="#1a1a1a" stroke-width="1.0" />
<line x1="563.00" y1="284.30" x2="567.50" y2="284.30" stroke="#1a1a1a" stroke-width="1.0" />
<circle cx="565.20" cy="255.90" r="2.50" fill="#111" stroke="none" stroke-width="0.8"/>
<circle cx="565.20" cy="274.40" r="2.50" fill="#111" stroke="none" stroke-width="0.8"/>
<circle cx="565.20" cy="291.30" r="2.50" fill="#111" stroke="none" stroke-width="0.8"/>
<line x1="565.25" y1="323.40" x2="565.25" y2="328.60" stroke="#1a1a1a" stroke-width="1.0" />
<rect x="575.60" y="276.40" width="9.40" height="47.00" fill="#ddd0b6" stroke="#1e1e1e" stroke-width="1.2" />
<line x1="580.30" y1="266.30" x2="580.30" y2="285.20" stroke="#1a1a1a" stroke-width="1.0" />
<line x1="578.05" y1="266.30" x2="582.55" y2="266.30" stroke="#1a1a1a" stroke-width="1.0" />
<line x1="578.05" y1="285.20" x2="582.55" y2="285.20" stroke="#1a1a1a" stroke-width="1.0" />
<circle cx="580.30" cy="259.70" r="2.50" fill="#111" stroke="none" stroke-width="0.8"/>
<circle cx="580.30" cy="275.50" r="2.50" fill="#111" stroke="none" stroke-width="0.8"/>
<circle cx="580.30" cy="292.40" r="2.50" fill="#111" stroke="none" stroke-width="0.8"/>
<line x1="580.30" y1="323.40" x2="580.30" y2="328.60" stroke="#1a1a1a" stroke-width="1.0" />
<rect x="591.30" y="259.00" width="9.40" height="64.40" fill="#ddd0b6" stroke="#1e1e1e" stroke-width="1.2" />
<line x1="596.00" y1="249.60" x2="596.00" y2="266.50" stroke="#1a1a1a" stroke-width="1.0" />
<line x1="593.75" y1="249.60" x2="598.25" y2="249.60" stroke="#1a1a1a" stroke-width="1.0" />
<line x1="593.75" y1="266.50" x2="598.25" y2="266.50" stroke="#1a1a1a" stroke-width="1.0" />
<circle cx="596.00" cy="246.20" r="2.50" fill="#111" stroke="none" stroke-width="0.8"/>
<circle cx="596.00" cy="252.70" r="2.50" fill="#111" stroke="none" stroke-width="0.8"/>
<circle cx="596.00" cy="276.00" r="2.50" fill="#111" stroke="none" stroke-width="0.8"/>
<line x1="596.00" y1="323.40" x2="596.00" y2="328.60" stroke="#1a1a1a" stroke-width="1.0" />
<rect x="606.60" y="288.30" width="9.40" height="35.10" fill="#91a8d7" stroke="#1e1e1e" stroke-width="1.2" />
<line x1="611.30" y1="281.60" x2="611.30" y2="293.30" stroke="#1a1a1a" stroke-width="1.0" />
<line x1="609.05" y1="281.60" x2="613.55" y2="281.60" stroke="#1a1a1a" stroke-width="1.0" />
<line x1="609.05" y1="293.30" x2="613.55" y2="293.30" stroke="#1a1a1a" stroke-width="1.0" />
<circle cx="608.20" cy="280.00" r="2.50" fill="#111" stroke="none" stroke-width="0.8"/>
<circle cx="614.90" cy="280.00" r="2.50" fill="#111" stroke="none" stroke-width="0.8"/>
<circle cx="611.30" cy="299.10" r="2.50" fill="#111" stroke="none" stroke-width="0.8"/>
<line x1="611.30" y1="323.40" x2="611.30" y2="328.60" stroke="#1a1a1a" stroke-width="1.0" />
<rect x="622.10" y="286.10" width="9.30" height="37.30" fill="#91a8d7" stroke="#1e1e1e" stroke-width="1.2" />
<line x1="626.75" y1="281.60" x2="626.75" y2="291.70" stroke="#1a1a1a" stroke-width="1.0" />
<line x1="624.50" y1="281.60" x2="629.00" y2="281.60" stroke="#1a1a1a" stroke-width="1.0" />
<line x1="624.50" y1="291.70" x2="629.00" y2="291.70" stroke="#1a1a1a" stroke-width="1.0" />
<circle cx="623.90" cy="278.90" r="2.50" fill="#111" stroke="none" stroke-width="0.8"/>
<circle cx="630.00" cy="278.90" r="2.50" fill="#111" stroke="none" stroke-width="0.8"/>
<circle cx="626.80" cy="296.90" r="2.50" fill="#111" stroke="none" stroke-width="0.8"/>
<line x1="626.75" y1="323.40" x2="626.75" y2="328.60" stroke="#1a1a1a" stroke-width="1.0" />
<rect x="637.40" y="291.00" width="9.50" height="32.40" fill="#91a8d7" stroke="#1e1e1e" stroke-width="1.2" />
<line x1="642.15" y1="285.00" x2="642.15" y2="296.20" stroke="#1a1a1a" stroke-width="1.0" />
<line x1="639.90" y1="285.00" x2="644.40" y2="285.00" stroke="#1a1a1a" stroke-width="1.0" />
<line x1="639.90" y1="296.20" x2="644.40" y2="296.20" stroke="#1a1a1a" stroke-width="1.0" />
<circle cx="639.00" cy="283.40" r="2.50" fill="#111" stroke="none" stroke-width="0.8"/>
<circle cx="644.90" cy="285.00" r="2.50" fill="#111" stroke="none" stroke-width="0.8"/>
<circle cx="642.00" cy="302.30" r="2.50" fill="#111" stroke="none" stroke-width="0.8"/>
<line x1="642.15" y1="323.40" x2="642.15" y2="328.60" stroke="#1a1a1a" stroke-width="1.0" />
<rect x="653.20" y="297.30" width="9.00" height="26.10" fill="#91a8d7" stroke="#1e1e1e" stroke-width="1.2" />
<line x1="657.70" y1="291.70" x2="657.70" y2="300.70" stroke="#1a1a1a" stroke-width="1.0" />
<line x1="655.45" y1="291.70" x2="659.95" y2="291.70" stroke="#1a1a1a" stroke-width="1.0" />
<line x1="655.45" y1="300.70" x2="659.95" y2="300.70" stroke="#1a1a1a" stroke-width="1.0" />
<circle cx="657.70" cy="288.80" r="2.50" fill="#111" stroke="none" stroke-width="0.8"/>
<circle cx="657.70" cy="295.00" r="2.50" fill="#111" stroke="none" stroke-width="0.8"/>
<circle cx="657.70" cy="305.20" r="2.50" fill="#111" stroke="none" stroke-width="0.8"/>
<line x1="657.70" y1="323.40" x2="657.70" y2="328.60" stroke="#1a1a1a" stroke-width="1.0" />
<line x1="508.30" y1="323.40" x2="669.00" y2="323.40" stroke="#1a1a1a" stroke-width="1.4" />
<text transform="translate(518.5,333.7) rotate(-45)" font-size="10.2" text-anchor="end" fill="#222">SOD1<tspan font-size="5.6" dy="-4.2">G93A</tspan></text>
<text transform="translate(536.3,334.0) rotate(-45)" font-size="10.2" text-anchor="end" fill="#222">Control</text>
<polygon points="546.90,340.40 596.50,331.30 596.50,340.40" stroke="#1a1a1a" stroke-width="1.1" fill="#fff" />
<polygon points="611.20,340.40 660.50,331.30 660.50,340.40" stroke="#1a1a1a" stroke-width="1.1" fill="#fff" />
<text x="575.10" y="353.20" font-size="10.3" text-anchor="middle" fill="#222" >BP2</text>
<text x="618.10" y="353.20" font-size="10.3" text-anchor="start" fill="#222" >BP2</text>
<polygon points="639.60,348.90 642.85,343.50 646.10,348.90" stroke="#2a2a2a" stroke-width="0.95" fill="none" stroke-linejoin="miter"/>
<text x="646.80" y="348.80" font-size="6.5" text-anchor="start" fill="#333" textLength="14.2" lengthAdjust="spacingAndGlyphs" >CHIP</text>
<text x="-0.30" y="204.70" font-size="11.7" text-anchor="start" fill="#222" >C</text>
<circle cx="31.00" cy="203.80" r="4.90" fill="#808080" stroke="#6a6a6a" stroke-width="0.8"/>
<circle cx="89.80" cy="203.80" r="4.90" fill="#dccfb4" stroke="#9a9a9a" stroke-width="0.8"/>
<circle cx="135.70" cy="203.80" r="4.90" fill="#8fa8d8" stroke="#8a8a8a" stroke-width="0.8"/>
<text x="40.20" y="207.50" font-size="10.7" text-anchor="start" fill="#222" >Control</text>
<text x="98.00" y="207.50" font-size="10.7" text-anchor="start" fill="#222" >BP2</text>
<text x="143.20" y="207.50" font-size="10.7" text-anchor="start" fill="#222" >BP2</text>
<polygon points="164.70,204.30 168.25,198.90 171.80,204.30" stroke="#2a2a2a" stroke-width="0.95" fill="none" stroke-linejoin="miter"/>
<text x="172.30" y="203.40" font-size="6.5" text-anchor="start" fill="#333" textLength="14.0" lengthAdjust="spacingAndGlyphs" >CHIP</text>
<text x="126.20" y="226.00" font-size="10.7" text-anchor="middle" fill="#222" >MG132</text>
<text transform="translate(15.2,294.7) rotate(-90)" font-size="10.55" text-anchor="middle" fill="#222">Cells containing insoluble</text>
<text transform="translate(27.6,293.0) rotate(-90)" font-size="10.55" text-anchor="middle" fill="#222">GFP positive inclusions (%)</text>
<line x1="51.60" y1="251.90" x2="51.60" y2="352.80" stroke="#333" stroke-width="1.0" />
<line x1="48.20" y1="352.80" x2="51.60" y2="352.80" stroke="#333" stroke-width="1.0" />
<text x="44.20" y="355.30" font-size="10.5" text-anchor="end" fill="#222" >0</text>
<line x1="48.20" y1="319.33" x2="51.60" y2="319.33" stroke="#333" stroke-width="1.0" />
<text x="44.20" y="325.40" font-size="10.5" text-anchor="end" fill="#222" >5</text>
<line x1="48.20" y1="285.87" x2="51.60" y2="285.87" stroke="#333" stroke-width="1.0" />
<text x="44.20" y="290.60" font-size="10.5" text-anchor="end" fill="#222" >10</text>
<line x1="48.20" y1="252.40" x2="51.60" y2="252.40" stroke="#333" stroke-width="1.0" />
<text x="44.20" y="258.20" font-size="10.5" text-anchor="end" fill="#222" >15</text>
<rect x="59.00" y="280.40" width="12.60" height="72.40" fill="#868686" stroke="#1e1e1e" stroke-width="1.25" />
<line x1="65.30" y1="276.70" x2="65.30" y2="283.80" stroke="#1a1a1a" stroke-width="1.0" />
<line x1="62.05" y1="276.70" x2="68.55" y2="276.70" stroke="#1a1a1a" stroke-width="1.0" />
<line x1="62.05" y1="283.80" x2="68.55" y2="283.80" stroke="#1a1a1a" stroke-width="1.0" />
<circle cx="65.30" cy="275.00" r="2.15" fill="#111" stroke="none" stroke-width="0.8"/>
<circle cx="62.80" cy="281.60" r="2.15" fill="#111" stroke="none" stroke-width="0.8"/>
<circle cx="66.60" cy="282.80" r="2.15" fill="#111" stroke="none" stroke-width="0.8"/>
<rect x="85.10" y="330.70" width="12.60" height="22.10" fill="#ddd0b6" stroke="#1e1e1e" stroke-width="1.25" />
<line x1="91.40" y1="327.20" x2="91.40" y2="334.20" stroke="#1a1a1a" stroke-width="1.0" />
<line x1="88.15" y1="327.20" x2="94.65" y2="327.20" stroke="#1a1a1a" stroke-width="1.0" />
<line x1="88.15" y1="334.20" x2="94.65" y2="334.20" stroke="#1a1a1a" stroke-width="1.0" />
<circle cx="87.60" cy="331.80" r="2.15" fill="#111" stroke="none" stroke-width="0.8"/>
<circle cx="92.10" cy="325.50" r="2.15" fill="#111" stroke="none" stroke-width="0.8"/>
<circle cx="96.20" cy="329.00" r="2.15" fill="#111" stroke="none" stroke-width="0.8"/>
<rect x="101.40" y="310.20" width="12.60" height="42.60" fill="#91a8d7" stroke="#1e1e1e" stroke-width="1.25" />
<line x1="107.70" y1="306.00" x2="107.70" y2="314.40" stroke="#1a1a1a" stroke-width="1.0" />
<line x1="104.45" y1="306.00" x2="110.95" y2="306.00" stroke="#1a1a1a" stroke-width="1.0" />
<line x1="104.45" y1="314.40" x2="110.95" y2="314.40" stroke="#1a1a1a" stroke-width="1.0" />
<circle cx="102.80" cy="305.00" r="2.15" fill="#111" stroke="none" stroke-width="0.8"/>
<circle cx="112.60" cy="306.20" r="2.15" fill="#111" stroke="none" stroke-width="0.8"/>
<circle cx="108.00" cy="316.00" r="2.15" fill="#111" stroke="none" stroke-width="0.8"/>
<rect x="121.10" y="309.00" width="12.60" height="43.80" fill="#ddd0b6" stroke="#1e1e1e" stroke-width="1.25" />
<line x1="127.40" y1="305.20" x2="127.40" y2="312.40" stroke="#1a1a1a" stroke-width="1.0" />
<line x1="124.15" y1="305.20" x2="130.65" y2="305.20" stroke="#1a1a1a" stroke-width="1.0" />
<line x1="124.15" y1="312.40" x2="130.65" y2="312.40" stroke="#1a1a1a" stroke-width="1.0" />
<circle cx="127.20" cy="303.20" r="2.15" fill="#111" stroke="none" stroke-width="0.8"/>
<circle cx="122.60" cy="311.20" r="2.15" fill="#111" stroke="none" stroke-width="0.8"/>
<circle cx="132.20" cy="311.20" r="2.15" fill="#111" stroke="none" stroke-width="0.8"/>
<rect x="137.50" y="312.00" width="12.60" height="40.80" fill="#91a8d7" stroke="#1e1e1e" stroke-width="1.25" />
<line x1="143.80" y1="308.20" x2="143.80" y2="316.20" stroke="#1a1a1a" stroke-width="1.0" />
<line x1="140.55" y1="308.20" x2="147.05" y2="308.20" stroke="#1a1a1a" stroke-width="1.0" />
<line x1="140.55" y1="316.20" x2="147.05" y2="316.20" stroke="#1a1a1a" stroke-width="1.0" />
<circle cx="143.80" cy="304.20" r="2.15" fill="#111" stroke="none" stroke-width="0.8"/>
<circle cx="139.20" cy="315.60" r="2.15" fill="#111" stroke="none" stroke-width="0.8"/>
<circle cx="148.40" cy="315.60" r="2.15" fill="#111" stroke="none" stroke-width="0.8"/>
<rect x="156.90" y="289.80" width="12.60" height="63.00" fill="#ddd0b6" stroke="#1e1e1e" stroke-width="1.25" />
<line x1="163.20" y1="283.40" x2="163.20" y2="296.20" stroke="#1a1a1a" stroke-width="1.0" />
<line x1="159.95" y1="283.40" x2="166.45" y2="283.40" stroke="#1a1a1a" stroke-width="1.0" />
<line x1="159.95" y1="296.20" x2="166.45" y2="296.20" stroke="#1a1a1a" stroke-width="1.0" />
<circle cx="163.20" cy="278.20" r="2.15" fill="#111" stroke="none" stroke-width="0.8"/>
<circle cx="163.20" cy="292.60" r="2.15" fill="#111" stroke="none" stroke-width="0.8"/>
<circle cx="163.20" cy="298.20" r="2.15" fill="#111" stroke="none" stroke-width="0.8"/>
<rect x="173.80" y="303.10" width="12.60" height="49.70" fill="#91a8d7" stroke="#1e1e1e" stroke-width="1.25" />
<line x1="180.10" y1="298.00" x2="180.10" y2="308.20" stroke="#1a1a1a" stroke-width="1.0" />
<line x1="176.85" y1="298.00" x2="183.35" y2="298.00" stroke="#1a1a1a" stroke-width="1.0" />
<line x1="176.85" y1="308.20" x2="183.35" y2="308.20" stroke="#1a1a1a" stroke-width="1.0" />
<circle cx="176.30" cy="298.20" r="2.15" fill="#111" stroke="none" stroke-width="0.8"/>
<circle cx="184.30" cy="299.00" r="2.15" fill="#111" stroke="none" stroke-width="0.8"/>
<circle cx="180.10" cy="312.00" r="2.15" fill="#111" stroke="none" stroke-width="0.8"/>
<line x1="51.60" y1="352.80" x2="193.50" y2="352.80" stroke="#1a1a1a" stroke-width="1.2" />
<polyline points="88.50,310.20 88.50,246.20 165.40,246.20 165.40,267.80" stroke="#333" stroke-width="1.0" fill="none" stroke-linejoin="miter" />
<line x1="124.85" y1="240.60" x2="127.25" y2="240.60" stroke="#3a3a3a" stroke-width="0.8" />
<line x1="125.45" y1="239.56" x2="126.65" y2="241.64" stroke="#3a3a3a" stroke-width="0.8" />
<line x1="126.65" y1="239.56" x2="125.45" y2="241.64" stroke="#3a3a3a" stroke-width="0.8" />
<line x1="127.85" y1="240.60" x2="130.25" y2="240.60" stroke="#3a3a3a" stroke-width="0.8" />
<line x1="128.45" y1="239.56" x2="129.65" y2="241.64" stroke="#3a3a3a" stroke-width="0.8" />
<line x1="129.65" y1="239.56" x2="128.45" y2="241.64" stroke="#3a3a3a" stroke-width="0.8" />
<line x1="130.85" y1="240.60" x2="133.25" y2="240.60" stroke="#3a3a3a" stroke-width="0.8" />
<line x1="131.45" y1="239.56" x2="132.65" y2="241.64" stroke="#3a3a3a" stroke-width="0.8" />
<line x1="132.65" y1="239.56" x2="131.45" y2="241.64" stroke="#3a3a3a" stroke-width="0.8" />
<polyline points="92.40,310.60 92.40,255.50 125.60,255.50 125.60,289.50" stroke="#333" stroke-width="1.0" fill="none" stroke-linejoin="miter" />
<line x1="110.50" y1="251.50" x2="112.90" y2="251.50" stroke="#3a3a3a" stroke-width="0.8" />
<line x1="111.10" y1="250.46" x2="112.30" y2="252.54" stroke="#3a3a3a" stroke-width="0.8" />
<line x1="112.30" y1="250.46" x2="111.10" y2="252.54" stroke="#3a3a3a" stroke-width="0.8" />
<polyline points="129.30,289.50 129.30,255.50 160.90,255.50 160.90,266.60" stroke="#333" stroke-width="1.0" fill="none" stroke-linejoin="miter" />
<line x1="141.10" y1="251.50" x2="143.50" y2="251.50" stroke="#3a3a3a" stroke-width="0.8" />
<line x1="141.70" y1="250.46" x2="142.90" y2="252.54" stroke="#3a3a3a" stroke-width="0.8" />
<line x1="142.90" y1="250.46" x2="141.70" y2="252.54" stroke="#3a3a3a" stroke-width="0.8" />
<text x="97.70" y="364.60" font-size="10.2" text-anchor="middle" fill="#222" >Vehicle</text>
<text x="134.00" y="364.60" font-size="10.2" text-anchor="middle" fill="#222" >5 µM</text>
<text x="170.20" y="364.60" font-size="10.2" text-anchor="middle" fill="#222" >10 µM</text>
<text x="-0.60" y="389.40" font-size="12.6" text-anchor="start" fill="#222" >D</text>
<circle cx="34.60" cy="390.40" r="4.90" fill="#808080" stroke="#6a6a6a" stroke-width="0.8"/>
<circle cx="93.70" cy="390.40" r="4.90" fill="#dccfb4" stroke="#9a9a9a" stroke-width="0.8"/>
<circle cx="138.90" cy="390.40" r="4.90" fill="#8fa8d8" stroke="#8a8a8a" stroke-width="0.8"/>
<text x="44.10" y="394.10" font-size="10.7" text-anchor="start" fill="#222" >Control</text>
<text x="101.20" y="394.10" font-size="10.7" text-anchor="start" fill="#222" >BP2</text>
<text x="146.70" y="394.10" font-size="10.7" text-anchor="start" fill="#222" >BP2</text>
<polygon points="168.10,390.90 171.65,385.50 175.20,390.90" stroke="#2a2a2a" stroke-width="0.95" fill="none" stroke-linejoin="miter"/>
<text x="175.70" y="390.00" font-size="6.5" text-anchor="start" fill="#333" textLength="14.0" lengthAdjust="spacingAndGlyphs" >CHIP</text>
<text x="123.20" y="408.60" font-size="10.4" text-anchor="middle" fill="#222" textLength="28.4" lengthAdjust="spacingAndGlyphs" >Baf. A1</text>
<text transform="translate(20.0,490.75) rotate(-90)" font-size="10.6" text-anchor="middle" fill="#222">Cells containing insoluble</text>
<text transform="translate(32.8,488.45) rotate(-90)" font-size="10.6" text-anchor="middle" fill="#222">GFP-positive inclusions (%)</text>
<line x1="57.50" y1="448.50" x2="57.50" y2="543.50" stroke="#333" stroke-width="1.0" />
<line x1="54.00" y1="543.50" x2="57.50" y2="543.50" stroke="#333" stroke-width="1.0" />
<text x="50.60" y="546.80" font-size="10.5" text-anchor="end" fill="#222" >0</text>
<line x1="54.00" y1="512.00" x2="57.50" y2="512.00" stroke="#333" stroke-width="1.0" />
<text x="50.60" y="515.30" font-size="10.5" text-anchor="end" fill="#222" >5</text>
<line x1="54.00" y1="480.50" x2="57.50" y2="480.50" stroke="#333" stroke-width="1.0" />
<text x="50.60" y="483.80" font-size="10.5" text-anchor="end" fill="#222" >10</text>
<line x1="54.00" y1="449.00" x2="57.50" y2="449.00" stroke="#333" stroke-width="1.0" />
<text x="50.60" y="452.30" font-size="10.5" text-anchor="end" fill="#222" >15</text>
<rect x="64.20" y="475.00" width="12.70" height="68.50" fill="#868686" stroke="#1e1e1e" stroke-width="1.25" />
<line x1="70.55" y1="472.00" x2="70.55" y2="478.00" stroke="#1a1a1a" stroke-width="1.0" />
<line x1="67.30" y1="472.00" x2="73.80" y2="472.00" stroke="#1a1a1a" stroke-width="1.0" />
<line x1="67.30" y1="478.00" x2="73.80" y2="478.00" stroke="#1a1a1a" stroke-width="1.0" />
<circle cx="70.50" cy="469.80" r="2.15" fill="#111" stroke="none" stroke-width="0.8"/>
<circle cx="70.50" cy="476.50" r="2.15" fill="#111" stroke="none" stroke-width="0.8"/>
<circle cx="70.50" cy="474.00" r="2.15" fill="#111" stroke="none" stroke-width="0.8"/>
<rect x="90.50" y="522.10" width="12.70" height="21.40" fill="#ddd0b6" stroke="#1e1e1e" stroke-width="1.25" />
<line x1="96.85" y1="519.50" x2="96.85" y2="524.80" stroke="#1a1a1a" stroke-width="1.0" />
<line x1="93.60" y1="519.50" x2="100.10" y2="519.50" stroke="#1a1a1a" stroke-width="1.0" />
<line x1="93.60" y1="524.80" x2="100.10" y2="524.80" stroke="#1a1a1a" stroke-width="1.0" />
<circle cx="92.60" cy="523.80" r="2.15" fill="#111" stroke="none" stroke-width="0.8"/>
<circle cx="97.60" cy="518.50" r="2.15" fill="#111" stroke="none" stroke-width="0.8"/>
<circle cx="102.00" cy="521.00" r="2.15" fill="#111" stroke="none" stroke-width="0.8"/>
<rect x="108.00" y="496.30" width="12.50" height="47.20" fill="#91a8d7" stroke="#1e1e1e" stroke-width="1.25" />
<line x1="114.25" y1="493.00" x2="114.25" y2="499.50" stroke="#1a1a1a" stroke-width="1.0" />
<line x1="111.00" y1="493.00" x2="117.50" y2="493.00" stroke="#1a1a1a" stroke-width="1.0" />
<line x1="111.00" y1="499.50" x2="117.50" y2="499.50" stroke="#1a1a1a" stroke-width="1.0" />
<circle cx="109.20" cy="499.00" r="2.15" fill="#111" stroke="none" stroke-width="0.8"/>
<circle cx="114.20" cy="490.50" r="2.15" fill="#111" stroke="none" stroke-width="0.8"/>
<circle cx="118.60" cy="498.00" r="2.15" fill="#111" stroke="none" stroke-width="0.8"/>
<rect x="126.60" y="508.50" width="12.70" height="35.00" fill="#ddd0b6" stroke="#1e1e1e" stroke-width="1.25" />
<line x1="132.95" y1="505.50" x2="132.95" y2="512.00" stroke="#1a1a1a" stroke-width="1.0" />
<line x1="129.70" y1="505.50" x2="136.20" y2="505.50" stroke="#1a1a1a" stroke-width="1.0" />
<line x1="129.70" y1="512.00" x2="136.20" y2="512.00" stroke="#1a1a1a" stroke-width="1.0" />
<circle cx="132.90" cy="504.50" r="2.15" fill="#111" stroke="none" stroke-width="0.8"/>
<circle cx="132.90" cy="510.50" r="2.15" fill="#111" stroke="none" stroke-width="0.8"/>
<circle cx="132.90" cy="513.00" r="2.15" fill="#111" stroke="none" stroke-width="0.8"/>
<rect x="143.70" y="473.90" width="12.50" height="69.60" fill="#91a8d7" stroke="#1e1e1e" stroke-width="1.25" />
<line x1="149.95" y1="471.50" x2="149.95" y2="476.50" stroke="#1a1a1a" stroke-width="1.0" />
<line x1="146.70" y1="471.50" x2="153.20" y2="471.50" stroke="#1a1a1a" stroke-width="1.0" />
<line x1="146.70" y1="476.50" x2="153.20" y2="476.50" stroke="#1a1a1a" stroke-width="1.0" />
<circle cx="149.90" cy="469.50" r="2.15" fill="#111" stroke="none" stroke-width="0.8"/>
<circle cx="149.90" cy="474.00" r="2.15" fill="#111" stroke="none" stroke-width="0.8"/>
<circle cx="149.90" cy="480.00" r="2.15" fill="#111" stroke="none" stroke-width="0.8"/>
<rect x="163.20" y="497.40" width="12.30" height="46.10" fill="#ddd0b6" stroke="#1e1e1e" stroke-width="1.25" />
<line x1="169.35" y1="491.50" x2="169.35" y2="503.20" stroke="#1a1a1a" stroke-width="1.0" />
<line x1="166.10" y1="491.50" x2="172.60" y2="491.50" stroke="#1a1a1a" stroke-width="1.0" />
<line x1="166.10" y1="503.20" x2="172.60" y2="503.20" stroke="#1a1a1a" stroke-width="1.0" />
<circle cx="169.40" cy="487.50" r="2.15" fill="#111" stroke="none" stroke-width="0.8"/>
<circle cx="169.40" cy="494.50" r="2.15" fill="#111" stroke="none" stroke-width="0.8"/>
<circle cx="169.40" cy="508.00" r="2.15" fill="#111" stroke="none" stroke-width="0.8"/>
<rect x="179.20" y="465.20" width="13.10" height="78.30" fill="#91a8d7" stroke="#1e1e1e" stroke-width="1.25" />
<line x1="185.75" y1="461.00" x2="185.75" y2="469.00" stroke="#1a1a1a" stroke-width="1.0" />
<line x1="182.50" y1="461.00" x2="189.00" y2="461.00" stroke="#1a1a1a" stroke-width="1.0" />
<line x1="182.50" y1="469.00" x2="189.00" y2="469.00" stroke="#1a1a1a" stroke-width="1.0" />
<circle cx="185.80" cy="458.00" r="2.15" fill="#111" stroke="none" stroke-width="0.8"/>
<circle cx="185.80" cy="464.00" r="2.15" fill="#111" stroke="none" stroke-width="0.8"/>
<circle cx="185.80" cy="472.00" r="2.15" fill="#111" stroke="none" stroke-width="0.8"/>
<line x1="57.50" y1="543.50" x2="199.00" y2="543.50" stroke="#1a1a1a" stroke-width="1.2" />
<polyline points="69.70,424.50 69.70,418.20 168.90,418.20 168.90,433.50" stroke="#333" stroke-width="1.0" fill="none" stroke-linejoin="miter" />
<line x1="125.90" y1="413.00" x2="128.30" y2="413.00" stroke="#3a3a3a" stroke-width="0.8" />
<line x1="126.50" y1="411.96" x2="127.70" y2="414.04" stroke="#3a3a3a" stroke-width="0.8" />
<line x1="127.70" y1="411.96" x2="126.50" y2="414.04" stroke="#3a3a3a" stroke-width="0.8" />
<polyline points="69.70,462.40 69.70,430.20 133.90,430.20 133.90,434.00" stroke="#333" stroke-width="1.0" fill="none" stroke-linejoin="miter" />
<line x1="101.00" y1="426.30" x2="103.40" y2="426.30" stroke="#3a3a3a" stroke-width="0.8" />
<line x1="101.60" y1="425.26" x2="102.80" y2="427.34" stroke="#3a3a3a" stroke-width="0.8" />
<line x1="102.80" y1="425.26" x2="101.60" y2="427.34" stroke="#3a3a3a" stroke-width="0.8" />
<line x1="104.00" y1="426.30" x2="106.40" y2="426.30" stroke="#3a3a3a" stroke-width="0.8" />
<line x1="104.60" y1="425.26" x2="105.80" y2="427.34" stroke="#3a3a3a" stroke-width="0.8" />
<line x1="105.80" y1="425.26" x2="104.60" y2="427.34" stroke="#3a3a3a" stroke-width="0.8" />
<line x1="107.00" y1="426.30" x2="109.40" y2="426.30" stroke="#3a3a3a" stroke-width="0.8" />
<line x1="107.60" y1="425.26" x2="108.80" y2="427.34" stroke="#3a3a3a" stroke-width="0.8" />
<line x1="108.80" y1="425.26" x2="107.60" y2="427.34" stroke="#3a3a3a" stroke-width="0.8" />
<polyline points="113.50,443.80 113.50,437.70 185.80,437.70 185.80,452.60" stroke="#333" stroke-width="1.0" fill="none" stroke-linejoin="miter" />
<line x1="151.30" y1="433.30" x2="153.70" y2="433.30" stroke="#3a3a3a" stroke-width="0.8" />
<line x1="151.90" y1="432.26" x2="153.10" y2="434.34" stroke="#3a3a3a" stroke-width="0.8" />
<line x1="153.10" y1="432.26" x2="151.90" y2="434.34" stroke="#3a3a3a" stroke-width="0.8" />
<line x1="154.30" y1="433.30" x2="156.70" y2="433.30" stroke="#3a3a3a" stroke-width="0.8" />
<line x1="154.90" y1="432.26" x2="156.10" y2="434.34" stroke="#3a3a3a" stroke-width="0.8" />
<line x1="156.10" y1="432.26" x2="154.90" y2="434.34" stroke="#3a3a3a" stroke-width="0.8" />
<line x1="157.30" y1="433.30" x2="159.70" y2="433.30" stroke="#3a3a3a" stroke-width="0.8" />
<line x1="157.90" y1="432.26" x2="159.10" y2="434.34" stroke="#3a3a3a" stroke-width="0.8" />
<line x1="159.10" y1="432.26" x2="157.90" y2="434.34" stroke="#3a3a3a" stroke-width="0.8" />
<polyline points="113.50,480.00 113.50,447.50 149.60,447.50 149.60,462.40" stroke="#333" stroke-width="1.0" fill="none" stroke-linejoin="miter" />
<line x1="132.30" y1="443.80" x2="134.70" y2="443.80" stroke="#3a3a3a" stroke-width="0.8" />
<line x1="132.90" y1="442.76" x2="134.10" y2="444.84" stroke="#3a3a3a" stroke-width="0.8" />
<line x1="134.10" y1="442.76" x2="132.90" y2="444.84" stroke="#3a3a3a" stroke-width="0.8" />
<line x1="135.30" y1="443.80" x2="137.70" y2="443.80" stroke="#3a3a3a" stroke-width="0.8" />
<line x1="135.90" y1="442.76" x2="137.10" y2="444.84" stroke="#3a3a3a" stroke-width="0.8" />
<line x1="137.10" y1="442.76" x2="135.90" y2="444.84" stroke="#3a3a3a" stroke-width="0.8" />
<text x="101.50" y="555.20" font-size="10.2" text-anchor="middle" fill="#222" >Vehicle</text>
<text x="140.60" y="555.20" font-size="10.2" text-anchor="middle" fill="#222" >100 nM</text>
<text x="177.80" y="555.20" font-size="10.2" text-anchor="middle" fill="#222" >500 nM</text>
<text x="210.80" y="389.70" font-size="12.3" text-anchor="start" fill="#222" >E</text>
<text x="279.20" y="407.30" font-size="10.8" text-anchor="middle" fill="#222" >DMSO</text>
<text x="339.80" y="407.30" font-size="10.8" text-anchor="middle" fill="#222" >MG132</text>
<text x="399.00" y="407.30" font-size="10.8" text-anchor="middle" fill="#222" >Baf. A1</text>
<text x="217.20" y="423.60" font-size="10.8" text-anchor="start" fill="#222" >BP2</text>
<polygon points="238.20,420.30 241.35,415.10 244.50,420.30" stroke="#2a2a2a" stroke-width="0.95" fill="none" stroke-linejoin="miter"/>
<text x="245.30" y="420.00" font-size="6.5" text-anchor="start" fill="#333" textLength="14.6" lengthAdjust="spacingAndGlyphs" >CHIP</text>
<text x="217.20" y="437.40" font-size="10.8" text-anchor="start" fill="#222" >BP2</text>
<text x="216.60" y="448.90" font-size="10.8" text-anchor="start" fill="#222" >Control</text>
<text x="216.60" y="463.10" font-size="10.8" text-anchor="start" fill="#222" >SOD1</text>
<text x="245.00" y="458.90" font-size="6.2" text-anchor="start" fill="#222" >A4V</text>
<text x="254.00" y="474.40" font-size="10.0" text-anchor="end" fill="#222" >kDa</text>
<line x1="290.20" y1="418.50" x2="295.20" y2="418.50" stroke="#555" stroke-width="0.9" />
<line x1="292.70" y1="416.00" x2="292.70" y2="421.00" stroke="#555" stroke-width="0.9" />
<line x1="343.60" y1="418.50" x2="348.60" y2="418.50" stroke="#555" stroke-width="0.9" />
<line x1="346.10" y1="416.00" x2="346.10" y2="421.00" stroke="#555" stroke-width="0.9" />
<line x1="396.00" y1="418.50" x2="401.00" y2="418.50" stroke="#555" stroke-width="0.9" />
<line x1="398.50" y1="416.00" x2="398.50" y2="421.00" stroke="#555" stroke-width="0.9" />
<line x1="276.50" y1="433.30" x2="281.50" y2="433.30" stroke="#555" stroke-width="0.9" />
<line x1="279.00" y1="430.80" x2="279.00" y2="435.80" stroke="#555" stroke-width="0.9" />
<line x1="330.80" y1="433.30" x2="335.80" y2="433.30" stroke="#555" stroke-width="0.9" />
<line x1="333.30" y1="430.80" x2="333.30" y2="435.80" stroke="#555" stroke-width="0.9" />
<line x1="382.80" y1="433.30" x2="387.80" y2="433.30" stroke="#555" stroke-width="0.9" />
<line x1="385.30" y1="430.80" x2="385.30" y2="435.80" stroke="#555" stroke-width="0.9" />
<line x1="261.00" y1="445.10" x2="266.00" y2="445.10" stroke="#555" stroke-width="0.9" />
<line x1="263.50" y1="442.60" x2="263.50" y2="447.60" stroke="#555" stroke-width="0.9" />
<line x1="315.00" y1="445.10" x2="320.00" y2="445.10" stroke="#555" stroke-width="0.9" />
<line x1="317.50" y1="442.60" x2="317.50" y2="447.60" stroke="#555" stroke-width="0.9" />
<line x1="367.10" y1="445.10" x2="372.10" y2="445.10" stroke="#555" stroke-width="0.9" />
<line x1="369.60" y1="442.60" x2="369.60" y2="447.60" stroke="#555" stroke-width="0.9" />
<line x1="261.00" y1="459.60" x2="266.00" y2="459.60" stroke="#555" stroke-width="0.9" />
<line x1="263.50" y1="457.10" x2="263.50" y2="462.10" stroke="#555" stroke-width="0.9" />
<line x1="276.50" y1="459.60" x2="281.50" y2="459.60" stroke="#555" stroke-width="0.9" />
<line x1="279.00" y1="457.10" x2="279.00" y2="462.10" stroke="#555" stroke-width="0.9" />
<line x1="290.20" y1="459.60" x2="295.20" y2="459.60" stroke="#555" stroke-width="0.9" />
<line x1="292.70" y1="457.10" x2="292.70" y2="462.10" stroke="#555" stroke-width="0.9" />
<line x1="315.00" y1="459.60" x2="320.00" y2="459.60" stroke="#555" stroke-width="0.9" />
<line x1="317.50" y1="457.10" x2="317.50" y2="462.10" stroke="#555" stroke-width="0.9" />
<line x1="329.40" y1="459.60" x2="334.40" y2="459.60" stroke="#555" stroke-width="0.9" />
<line x1="331.90" y1="457.10" x2="331.90" y2="462.10" stroke="#555" stroke-width="0.9" />
<line x1="342.20" y1="459.60" x2="347.20" y2="459.60" stroke="#555" stroke-width="0.9" />
<line x1="344.70" y1="457.10" x2="344.70" y2="462.10" stroke="#555" stroke-width="0.9" />
<line x1="367.10" y1="459.60" x2="372.10" y2="459.60" stroke="#555" stroke-width="0.9" />
<line x1="369.60" y1="457.10" x2="369.60" y2="462.10" stroke="#555" stroke-width="0.9" />
<line x1="381.20" y1="459.60" x2="386.20" y2="459.60" stroke="#555" stroke-width="0.9" />
<line x1="383.70" y1="457.10" x2="383.70" y2="462.10" stroke="#555" stroke-width="0.9" />
<line x1="396.00" y1="459.60" x2="401.00" y2="459.60" stroke="#555" stroke-width="0.9" />
<line x1="398.50" y1="457.10" x2="398.50" y2="462.10" stroke="#555" stroke-width="0.9" />
<rect x="255.30" y="473.10" width="154.00" height="29.40" fill="#e7e7e7" stroke="none" stroke-width="1.2" />
<rect x="259.75" y="484.80" width="11.50" height="4.20" rx="2.10" fill="#000" opacity="1" filter="url(#b1)"/>
<rect x="274.40" y="485.90" width="10.00" height="2.60" rx="1.30" fill="#000" opacity="0.18" filter="url(#b1)"/>
<rect x="288.05" y="485.60" width="10.50" height="3.20" rx="1.60" fill="#000" opacity="0.55" filter="url(#b1)"/>
<rect x="311.65" y="484.80" width="11.50" height="4.20" rx="2.10" fill="#000" opacity="1" filter="url(#b1)"/>
<rect x="325.75" y="485.00" width="11.50" height="3.80" rx="1.90" fill="#000" opacity="1" filter="url(#b1)"/>
<rect x="340.40" y="485.80" width="10.00" height="2.80" rx="1.40" fill="#000" opacity="0.35" filter="url(#b1)"/>
<rect x="364.55" y="484.90" width="11.50" height="4.00" rx="2.00" fill="#000" opacity="1" filter="url(#b1)"/>
<rect x="378.25" y="485.90" width="9.50" height="2.60" rx="1.30" fill="#000" opacity="0.22" filter="url(#b1)"/>
<rect x="390.90" y="484.40" width="12.00" height="3.80" rx="1.90" fill="#000" opacity="1" filter="url(#b1)"/>
<rect x="255.30" y="473.10" width="154.00" height="29.40" fill="none" stroke="#1e1e1e" stroke-width="1.4" />
<text x="253.40" y="485.00" font-size="10.8" text-anchor="end" fill="#222" >50</text>
<text x="253.40" y="501.90" font-size="10.8" text-anchor="end" fill="#222" >37</text>
<text x="411.30" y="491.00" font-size="10.8" text-anchor="start" fill="#222" >IB:</text>
<text x="411.30" y="503.40" font-size="10.8" text-anchor="start" fill="#222" >SOD1</text>
<rect x="255.30" y="507.50" width="154.00" height="33.70" fill="#e9e9e9" stroke="none" stroke-width="1.2" />
<rect x="258.80" y="523.00" width="12.00" height="3.80" rx="1.90" fill="#000" opacity="1" filter="url(#b1)"/>
<rect x="273.10" y="522.90" width="12.00" height="3.80" rx="1.90" fill="#000" opacity="1" filter="url(#b1)"/>
<rect x="286.80" y="522.30" width="13.00" height="4.20" rx="2.10" fill="#000" opacity="1" filter="url(#b1)"/>
<rect x="312.55" y="522.10" width="12.50" height="4.00" rx="2.00" fill="#000" opacity="1" filter="url(#b1)"/>
<rect x="326.50" y="521.50" width="12.00" height="3.80" rx="1.90" fill="#000" opacity="1" filter="url(#b1)"/>
<rect x="340.35" y="520.60" width="12.50" height="4.00" rx="2.00" fill="#000" opacity="1" filter="url(#b1)"/>
<rect x="364.95" y="519.50" width="12.50" height="3.80" rx="1.90" fill="#000" opacity="1" filter="url(#b1)"/>
<rect x="378.30" y="518.80" width="12.00" height="3.60" rx="1.80" fill="#000" opacity="1" filter="url(#b1)"/>
<rect x="391.90" y="517.90" width="11.00" height="3.00" rx="1.50" fill="#000" opacity="0.75" filter="url(#b1)"/>
<rect x="255.30" y="507.50" width="154.00" height="33.70" fill="none" stroke="#1e1e1e" stroke-width="1.4" />
<text x="253.40" y="528.30" font-size="10.8" text-anchor="end" fill="#222" >37</text>
<text x="411.30" y="525.00" font-size="10.8" text-anchor="start" fill="#222" >IB:</text>
<text x="411.30" y="536.80" font-size="10.8" text-anchor="start" fill="#222" >GAPDH</text>
<line x1="513.40" y1="409.60" x2="513.40" y2="533.50" stroke="#1a1a1a" stroke-width="1.1" />
<line x1="507.30" y1="533.50" x2="513.40" y2="533.50" stroke="#1a1a1a" stroke-width="1.1" />
<text x="504.00" y="536.70" font-size="9.0" text-anchor="end" fill="#222" textLength="4.5" lengthAdjust="spacingAndGlyphs" >0</text>
<line x1="507.30" y1="502.65" x2="513.40" y2="502.65" stroke="#1a1a1a" stroke-width="1.1" />
<text x="504.00" y="505.85" font-size="9.0" text-anchor="end" fill="#222" textLength="22.5" lengthAdjust="spacingAndGlyphs" >10000</text>
<line x1="507.30" y1="471.80" x2="513.40" y2="471.80" stroke="#1a1a1a" stroke-width="1.1" />
<text x="504.00" y="475.00" font-size="9.0" text-anchor="end" fill="#222" textLength="22.5" lengthAdjust="spacingAndGlyphs" >20000</text>
<line x1="507.30" y1="440.95" x2="513.40" y2="440.95" stroke="#1a1a1a" stroke-width="1.1" />
<text x="504.00" y="444.15" font-size="9.0" text-anchor="end" fill="#222" textLength="22.5" lengthAdjust="spacingAndGlyphs" >30000</text>
<line x1="507.30" y1="410.10" x2="513.40" y2="410.10" stroke="#1a1a1a" stroke-width="1.1" />
<text x="504.00" y="413.30" font-size="9.0" text-anchor="end" fill="#222" textLength="22.5" lengthAdjust="spacingAndGlyphs" >40000</text>
<text transform="translate(474.8,473.1) rotate(-90)" font-size="10.6" text-anchor="middle" fill="#222">Relative SOD1 levels (arb. units)</text>
<rect x="519.30" y="494.10" width="9.40" height="39.40" fill="#868686" stroke="#1e1e1e" stroke-width="1.2" />
<line x1="524.00" y1="484.60" x2="524.00" y2="502.00" stroke="#1a1a1a" stroke-width="1.0" />
<line x1="521.60" y1="484.60" x2="526.40" y2="484.60" stroke="#1a1a1a" stroke-width="1.0" />
<line x1="521.60" y1="502.00" x2="526.40" y2="502.00" stroke="#1a1a1a" stroke-width="1.0" />
<circle cx="523.90" cy="476.70" r="2.60" fill="#111" stroke="none" stroke-width="0.8"/>
<circle cx="523.90" cy="496.40" r="2.60" fill="#111" stroke="none" stroke-width="0.8"/>
<circle cx="523.90" cy="506.20" r="2.60" fill="#111" stroke="none" stroke-width="0.8"/>
<rect x="531.50" y="523.30" width="11.10" height="10.20" fill="#ddd0b6" stroke="#1e1e1e" stroke-width="1.2" />
<line x1="537.05" y1="515.10" x2="537.05" y2="531.50" stroke="#1a1a1a" stroke-width="1.0" />
<line x1="534.65" y1="515.10" x2="539.45" y2="515.10" stroke="#1a1a1a" stroke-width="1.0" />
<line x1="534.65" y1="531.50" x2="539.45" y2="531.50" stroke="#1a1a1a" stroke-width="1.0" />
<circle cx="537.10" cy="507.50" r="2.60" fill="#111" stroke="none" stroke-width="0.8"/>
<circle cx="540.10" cy="529.20" r="2.60" fill="#111" stroke="none" stroke-width="0.8"/>
<circle cx="534.80" cy="533.00" r="2.60" fill="#111" stroke="none" stroke-width="0.8"/>
<rect x="546.20" y="503.50" width="8.90" height="30.00" fill="#91a8d7" stroke="#1e1e1e" stroke-width="1.2" />
<line x1="550.65" y1="488.20" x2="550.65" y2="517.20" stroke="#1a1a1a" stroke-width="1.0" />
<line x1="548.25" y1="488.20" x2="553.05" y2="488.20" stroke="#1a1a1a" stroke-width="1.0" />
<line x1="548.25" y1="517.20" x2="553.05" y2="517.20" stroke="#1a1a1a" stroke-width="1.0" />
<circle cx="550.70" cy="477.20" r="2.60" fill="#111" stroke="none" stroke-width="0.8"/>
<circle cx="550.70" cy="504.40" r="2.60" fill="#111" stroke="none" stroke-width="0.8"/>
<circle cx="550.70" cy="526.90" r="2.60" fill="#111" stroke="none" stroke-width="0.8"/>
<rect x="561.90" y="458.20" width="9.70" height="75.30" fill="#868686" stroke="#1e1e1e" stroke-width="1.2" />
<line x1="566.75" y1="442.80" x2="566.75" y2="472.00" stroke="#1a1a1a" stroke-width="1.0" />
<line x1="564.35" y1="442.80" x2="569.15" y2="442.80" stroke="#1a1a1a" stroke-width="1.0" />
<line x1="564.35" y1="472.00" x2="569.15" y2="472.00" stroke="#1a1a1a" stroke-width="1.0" />
<circle cx="566.70" cy="431.60" r="2.60" fill="#111" stroke="none" stroke-width="0.8"/>
<circle cx="566.70" cy="458.40" r="2.60" fill="#111" stroke="none" stroke-width="0.8"/>
<circle cx="566.70" cy="481.90" r="2.60" fill="#111" stroke="none" stroke-width="0.8"/>
<rect x="575.00" y="451.70" width="9.60" height="81.80" fill="#ddd0b6" stroke="#1e1e1e" stroke-width="1.2" />
<line x1="579.80" y1="436.30" x2="579.80" y2="465.00" stroke="#1a1a1a" stroke-width="1.0" />
<line x1="577.40" y1="436.30" x2="582.20" y2="436.30" stroke="#1a1a1a" stroke-width="1.0" />
<line x1="577.40" y1="465.00" x2="582.20" y2="465.00" stroke="#1a1a1a" stroke-width="1.0" />
<circle cx="579.80" cy="426.90" r="2.60" fill="#111" stroke="none" stroke-width="0.8"/>
<circle cx="579.80" cy="449.00" r="2.60" fill="#111" stroke="none" stroke-width="0.8"/>
<circle cx="579.80" cy="477.20" r="2.60" fill="#111" stroke="none" stroke-width="0.8"/>
<rect x="588.60" y="497.60" width="9.10" height="35.90" fill="#91a8d7" stroke="#1e1e1e" stroke-width="1.2" />
<line x1="593.15" y1="483.80" x2="593.15" y2="511.70" stroke="#1a1a1a" stroke-width="1.0" />
<line x1="590.75" y1="483.80" x2="595.55" y2="483.80" stroke="#1a1a1a" stroke-width="1.0" />
<line x1="590.75" y1="511.70" x2="595.55" y2="511.70" stroke="#1a1a1a" stroke-width="1.0" />
<circle cx="593.20" cy="471.20" r="2.60" fill="#111" stroke="none" stroke-width="0.8"/>
<circle cx="593.20" cy="506.00" r="2.60" fill="#111" stroke="none" stroke-width="0.8"/>
<circle cx="593.20" cy="513.00" r="2.60" fill="#111" stroke="none" stroke-width="0.8"/>
<rect x="604.30" y="487.00" width="9.90" height="46.50" fill="#868686" stroke="#1e1e1e" stroke-width="1.2" />
<line x1="609.25" y1="470.80" x2="609.25" y2="502.10" stroke="#1a1a1a" stroke-width="1.0" />
<line x1="606.85" y1="470.80" x2="611.65" y2="470.80" stroke="#1a1a1a" stroke-width="1.0" />
<line x1="606.85" y1="502.10" x2="611.65" y2="502.10" stroke="#1a1a1a" stroke-width="1.0" />
<circle cx="609.20" cy="463.70" r="2.60" fill="#111" stroke="none" stroke-width="0.8"/>
<circle cx="609.20" cy="478.60" r="2.60" fill="#111" stroke="none" stroke-width="0.8"/>
<circle cx="609.20" cy="516.50" r="2.60" fill="#111" stroke="none" stroke-width="0.8"/>
<rect x="617.30" y="527.70" width="10.00" height="5.80" fill="#ddd0b6" stroke="#1e1e1e" stroke-width="1.2" />
<line x1="622.30" y1="523.60" x2="622.30" y2="531.00" stroke="#1a1a1a" stroke-width="1.0" />
<line x1="619.90" y1="523.60" x2="624.70" y2="523.60" stroke="#1a1a1a" stroke-width="1.0" />
<line x1="619.90" y1="531.00" x2="624.70" y2="531.00" stroke="#1a1a1a" stroke-width="1.0" />
<circle cx="622.20" cy="520.40" r="2.60" fill="#111" stroke="none" stroke-width="0.8"/>
<circle cx="620.50" cy="528.50" r="2.60" fill="#111" stroke="none" stroke-width="0.8"/>
<circle cx="624.50" cy="529.50" r="2.60" fill="#111" stroke="none" stroke-width="0.8"/>
<rect x="630.40" y="510.00" width="11.20" height="23.50" fill="#7088be" stroke="#1e1e1e" stroke-width="1.2" />
<line x1="636.00" y1="497.40" x2="636.00" y2="523.00" stroke="#1a1a1a" stroke-width="1.0" />
<line x1="633.60" y1="497.40" x2="638.40" y2="497.40" stroke="#1a1a1a" stroke-width="1.0" />
<line x1="633.60" y1="523.00" x2="638.40" y2="523.00" stroke="#1a1a1a" stroke-width="1.0" />
<circle cx="635.90" cy="487.00" r="2.60" fill="#111" stroke="none" stroke-width="0.8"/>
<circle cx="635.90" cy="513.90" r="2.60" fill="#111" stroke="none" stroke-width="0.8"/>
<circle cx="635.90" cy="530.40" r="2.60" fill="#111" stroke="none" stroke-width="0.8"/>
<line x1="507.30" y1="533.50" x2="648.00" y2="533.50" stroke="#1a1a1a" stroke-width="1.3" />
<polyline points="536.90,496.80 536.90,405.40 577.60,405.40 577.60,419.80" stroke="#333" stroke-width="1.0" fill="none" stroke-linejoin="miter" />
<line x1="556.00" y1="399.70" x2="558.40" y2="399.70" stroke="#3a3a3a" stroke-width="0.8" />
<line x1="556.60" y1="398.66" x2="557.80" y2="400.74" stroke="#3a3a3a" stroke-width="0.8" />
<line x1="557.80" y1="398.66" x2="556.60" y2="400.74" stroke="#3a3a3a" stroke-width="0.8" />
<polyline points="579.60,419.80 579.60,405.40 622.60,405.40 622.60,510.00" stroke="#333" stroke-width="1.0" fill="none" stroke-linejoin="miter" />
<line x1="598.40" y1="399.70" x2="600.80" y2="399.70" stroke="#3a3a3a" stroke-width="0.8" />
<line x1="599.00" y1="398.66" x2="600.20" y2="400.74" stroke="#3a3a3a" stroke-width="0.8" />
<line x1="600.20" y1="398.66" x2="599.00" y2="400.74" stroke="#3a3a3a" stroke-width="0.8" />
<line x1="601.40" y1="399.70" x2="603.80" y2="399.70" stroke="#3a3a3a" stroke-width="0.8" />
<line x1="602.00" y1="398.66" x2="603.20" y2="400.74" stroke="#3a3a3a" stroke-width="0.8" />
<line x1="603.20" y1="398.66" x2="602.00" y2="400.74" stroke="#3a3a3a" stroke-width="0.8" />
<text x="536.60" y="547.30" font-size="10.2" text-anchor="middle" fill="#222" >Vehicle</text>
<text x="580.50" y="547.30" font-size="10.2" text-anchor="middle" fill="#222" >MG132</text>
<text x="624.60" y="547.30" font-size="10.2" text-anchor="middle" fill="#222" >Baf.A1</text>
<circle cx="635.60" cy="412.10" r="4.80" fill="#808080" stroke="#6a6a6a" stroke-width="0.8"/>
<circle cx="635.60" cy="429.00" r="4.80" fill="#dccfb4" stroke="#9a9a9a" stroke-width="0.8"/>
<circle cx="635.60" cy="444.60" r="4.80" fill="#8fa8d8" stroke="#8a8a8a" stroke-width="0.8"/>
<text x="641.40" y="416.00" font-size="10.8" text-anchor="start" fill="#222" >Control</text>
<text x="641.40" y="432.90" font-size="10.8" text-anchor="start" fill="#222" >BP2</text>
<text x="641.40" y="448.60" font-size="10.8" text-anchor="start" fill="#222" >BP2</text>
<polygon points="663.30,446.20 666.75,441.40 670.20,446.20" stroke="#2a2a2a" stroke-width="0.95" fill="none" stroke-linejoin="miter"/>
<text x="670.60" y="446.00" font-size="6.5" text-anchor="start" fill="#333" textLength="13.9" lengthAdjust="spacingAndGlyphs" >CHIP</text>
</svg></body></html>
